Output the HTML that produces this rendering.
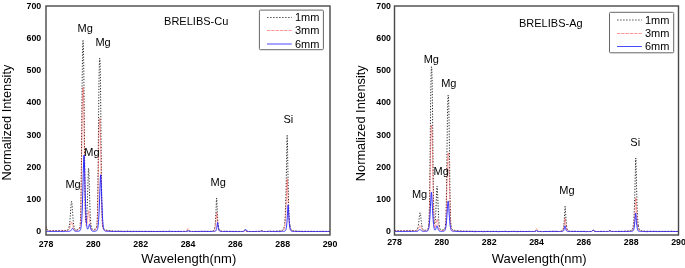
<!DOCTYPE html>
<html><head><meta charset="utf-8"><title>BRELIBS spectra</title>
<style>
html,body{margin:0;padding:0;background:#fff;overflow:hidden;}
svg{display:block;}
text{font-family:"Liberation Sans",sans-serif;fill:#000;}
.tk{font-size:8.8px;font-weight:bold;}
.ax{font-size:13px;}
.lb{font-size:11px;}
</style></head><body>
<svg width="685" height="268" viewBox="0 0 685 268">
<rect x="0" y="0" width="685" height="268" fill="#fff"/>
<g opacity="0.999">
<clipPath id="clip_left"><rect x="46.0" y="6.0" width="284.0" height="229.0"/></clipPath>
<g clip-path="url(#clip_left)" fill="none" stroke-linejoin="round">
<path d="M46.00,226.41 L46.71,228.89 L47.42,229.96 L48.13,230.40 L48.84,230.65 L49.55,230.82 L50.26,230.78 L50.97,230.74 L51.68,230.74 L52.39,230.73 L53.10,230.71 L53.81,230.74 L54.52,230.74 L55.23,230.70 L55.94,230.70 L56.65,230.71 L57.36,230.74 L58.07,230.72 L58.78,230.61 L59.49,230.56 L60.20,230.54 L60.91,230.48 L61.62,230.46 L62.33,230.52 L63.04,230.53 L63.75,230.52 L64.46,230.49 L64.58,230.48 L64.70,230.48 L64.82,230.47 L64.93,230.46 L65.05,230.46 L65.17,230.46 L65.29,230.46 L65.41,230.46 L65.52,230.45 L65.64,230.45 L65.76,230.45 L65.88,230.45 L66.00,230.44 L66.12,230.44 L66.24,230.40 L66.35,230.36 L66.47,230.33 L66.59,230.29 L66.71,230.25 L66.83,230.21 L66.94,230.16 L67.06,230.11 L67.18,230.06 L67.30,230.00 L67.42,229.97 L67.54,229.93 L67.66,229.88 L67.77,229.82 L67.89,229.75 L68.01,229.65 L68.13,229.53 L68.25,229.39 L68.36,229.21 L68.48,228.99 L68.60,228.71 L68.72,228.38 L68.84,227.99 L68.96,227.54 L69.08,227.01 L69.19,226.39 L69.31,225.69 L69.34,225.49 M73.78,225.49 L73.81,225.66 L73.93,226.38 L74.05,227.00 L74.16,227.54 L74.28,228.00 L74.40,228.40 L74.52,228.72 L74.64,228.99 L74.75,229.21 L74.87,229.39 L74.99,229.54 L75.11,229.66 L75.23,229.76 L75.35,229.83 L75.47,229.89 L75.58,229.93 L75.70,229.95 L75.82,229.96 L75.94,229.97 L76.06,229.96 L76.17,229.95 L76.29,229.94 L76.41,229.92 L76.53,229.89 L76.65,229.87 L76.77,229.83 L76.89,229.81 L77.00,229.79 L77.12,229.77 L77.24,229.74 L77.36,229.70 L77.48,229.67 L77.59,229.62 L77.71,229.58 L77.83,229.53 L77.95,229.48 L78.07,229.42 L78.19,229.35 L78.31,229.28 L78.42,229.20 L78.54,229.12 L78.66,229.03 L78.78,228.93 L78.90,228.82 L79.01,228.71 L79.13,228.57 L79.25,228.42 L79.37,228.23 L79.49,228.02 L79.61,227.75 L79.73,227.41 L79.84,226.96 L79.96,226.36 L80.08,225.53 L80.08,225.49 M91.05,225.49 L91.08,225.76 L91.20,226.48 L91.32,227.08 L91.44,227.56 L91.56,227.95 L91.68,228.27 L91.80,228.53 L91.91,228.74 L92.03,228.90 L92.15,229.04 L92.27,229.16 L92.39,229.25 L92.50,229.33 L92.62,229.40 L92.74,229.45 L92.86,229.50 L92.98,229.54 L93.10,229.57 L93.22,229.60 L93.33,229.62 L93.45,229.61 L93.57,229.59 L93.69,229.57 L93.81,229.55 L93.92,229.52 L94.04,229.48 L94.16,229.44 L94.28,229.40 L94.40,229.36 L94.52,229.31 L94.64,229.28 L94.75,229.24 L94.87,229.20 L94.99,229.16 L95.11,229.11 L95.23,229.05 L95.34,228.99 L95.46,228.92 L95.58,228.84 L95.70,228.75 L95.82,228.65 L95.94,228.53 L96.06,228.39 L96.17,228.23 L96.29,228.01 L96.41,227.73 L96.53,227.35 L96.65,226.83 L96.76,226.10 L96.84,225.49 M102.62,225.49 L102.68,226.01 L102.80,226.78 L102.92,227.32 L103.04,227.71 L103.16,228.01 L103.27,228.23 L103.39,228.42 L103.51,228.57 L103.63,228.70 L103.75,228.81 L103.86,228.92 L103.98,229.01 L104.10,229.10 L104.22,229.19 L104.34,229.26 L104.46,229.34 L104.58,229.40 L104.69,229.47 L104.81,229.52 L104.93,229.58 L105.05,229.63 L105.17,229.68 L105.28,229.73 L105.40,229.78 L105.52,229.83 L105.64,229.88 L105.76,229.93 L105.88,229.97 L106.00,230.01 L106.11,230.05 L106.23,230.09 L106.35,230.12 L106.47,230.16 L106.59,230.19 L106.70,230.21 L106.82,230.24 L107.06,230.29 L107.77,230.42 L108.48,230.53 L109.19,230.61 L109.90,230.67 L110.61,230.86 L111.32,230.97 L112.03,230.92 L112.74,231.02 L113.45,231.19 L114.16,231.16 L114.87,231.17 L115.58,231.26 L116.29,231.20 L117.00,231.08 L117.71,231.09 L118.42,231.12 L119.13,231.21 L119.84,231.19 L120.55,231.10 L121.26,231.23 L121.97,231.31 L122.68,231.28 L123.39,231.28 L124.10,231.29 L124.81,231.36 L125.52,231.38 L126.23,231.31 L126.94,231.25 L127.65,231.18 L128.36,231.33 L129.07,231.40 L129.78,231.31 L130.49,231.32 L131.20,231.38 L131.91,231.29 L132.62,231.25 L133.33,231.32 L134.04,231.33 L134.75,231.33 L135.46,231.33 L136.17,231.34 L136.88,231.36 L137.59,231.43 L138.30,231.51 L139.01,231.38 L139.72,231.33 L140.43,231.47 L141.14,231.46 L141.85,231.39 L142.56,231.37 L143.27,231.38 L143.98,231.46 L144.69,231.45 L145.40,231.40 L146.11,231.36 L146.82,231.34 L147.53,231.40 L148.24,231.45 L148.95,231.49 L149.66,231.59 L150.37,231.63 L151.08,231.53 L151.79,231.49 L152.50,231.47 L153.21,231.47 L153.92,231.48 L154.63,231.50 L155.34,231.46 L156.05,231.40 L156.76,231.45 L157.47,231.47 L158.18,231.45 L158.89,231.42 L159.60,231.38 L160.31,231.45 L161.02,231.49 L161.73,231.47 L162.44,231.38 L163.15,231.26 L163.86,231.32 L164.57,231.40 L165.28,231.51 L165.99,231.50 L166.70,231.44 L167.41,231.41 L168.12,231.38 L168.83,231.35 L169.54,231.37 L170.25,231.43 L170.96,231.46 L171.67,231.48 L172.38,231.49 L173.09,231.45 L173.80,231.39 L174.51,231.40 L175.22,231.43 L175.93,231.47 L176.64,231.47 L177.35,231.45 L178.06,231.46 L178.77,231.45 L179.48,231.40 L180.19,231.42 L180.90,231.49 L181.02,231.48 L181.14,231.47 L181.25,231.46 L181.37,231.45 L181.49,231.44 L181.61,231.43 L181.73,231.42 L181.85,231.42 L181.97,231.41 L182.08,231.40 L182.20,231.39 L182.32,231.39 L182.44,231.39 L182.56,231.38 L182.67,231.38 L182.79,231.38 L182.91,231.37 L183.03,231.37 L183.15,231.37 L183.27,231.36 L183.39,231.37 L183.50,231.37 L183.62,231.37 L183.74,231.37 L183.86,231.38 L183.98,231.38 L184.09,231.38 L184.21,231.38 L184.33,231.39 L184.45,231.39 L184.57,231.40 L184.69,231.41 L184.81,231.42 L184.92,231.43 L185.04,231.44 L185.16,231.45 L185.28,231.45 L185.40,231.46 L185.51,231.47 L185.63,231.48 L185.75,231.46 L185.87,231.43 L185.99,231.41 L186.11,231.38 L186.23,231.34 L186.34,231.30 L186.46,231.25 L186.58,231.20 L186.70,231.13 L186.82,231.05 L186.93,230.99 L187.05,230.91 L187.17,230.83 L187.29,230.74 L187.41,230.65 L187.53,230.56 L187.65,230.48 L187.76,230.42 L187.88,230.39 L188.00,230.39 L188.12,230.39 L188.24,230.43 L188.35,230.50 L188.47,230.59 L188.59,230.68 L188.71,230.78 L188.83,230.88 L188.95,230.97 L189.07,231.05 L189.18,231.12 L189.30,231.19 L189.42,231.25 L189.54,231.30 L189.66,231.34 L189.77,231.38 L189.89,231.40 L190.01,231.42 L190.13,231.44 L190.25,231.46 L190.37,231.47 L190.49,231.48 L190.60,231.49 L190.72,231.50 L190.84,231.51 L190.96,231.52 L191.08,231.53 L191.19,231.54 L191.31,231.55 L191.43,231.56 L191.55,231.56 L191.67,231.55 L191.79,231.53 L191.91,231.52 L192.02,231.50 L192.14,231.49 L192.26,231.47 L192.38,231.46 L192.50,231.44 L192.61,231.42 L192.73,231.41 L192.85,231.41 L192.97,231.41 L193.09,231.41 L193.21,231.41 L193.33,231.41 L193.44,231.41 L193.56,231.41 L193.68,231.41 L193.80,231.41 L193.92,231.41 L194.03,231.41 L194.15,231.41 L194.27,231.41 L194.39,231.42 L194.51,231.42 L194.63,231.42 L194.75,231.43 L194.86,231.43 L194.98,231.43 L195.10,231.43 L195.81,231.42 L196.52,231.42 L197.23,231.46 L197.94,231.48 L198.65,231.48 L199.36,231.45 L200.07,231.40 L200.78,231.30 L201.49,231.29 L202.20,231.34 L202.91,231.41 L203.62,231.43 L204.33,231.37 L205.04,231.38 L205.75,231.42 L206.46,231.41 L207.17,231.38 L207.88,231.30 L208.59,231.30 L209.30,231.35 L209.54,231.35 L209.66,231.36 L209.77,231.36 L209.89,231.37 L210.01,231.37 L210.13,231.37 L210.25,231.37 L210.36,231.38 L210.48,231.38 L210.60,231.36 L210.72,231.35 L210.84,231.33 L210.96,231.32 L211.08,231.30 L211.19,231.28 L211.31,231.27 L211.43,231.25 L211.55,231.23 L211.67,231.21 L211.78,231.19 L211.90,231.16 L212.02,231.13 L212.14,231.11 L212.26,231.08 L212.38,231.05 L212.50,231.01 L212.61,230.98 L212.73,230.94 L212.85,230.89 L212.97,230.85 L213.09,230.80 L213.20,230.74 L213.32,230.68 L213.44,230.60 L213.56,230.51 L213.68,230.41 L213.80,230.28 L213.92,230.12 L214.03,229.93 L214.15,229.70 L214.27,229.42 L214.39,229.08 L214.51,228.67 L214.62,228.18 L214.74,227.59 L214.86,226.89 L214.98,226.05 L215.05,225.49 M218.22,225.49 L218.29,226.09 L218.41,226.92 L218.53,227.61 L218.65,228.20 L218.77,228.68 L218.89,229.08 L219.00,229.42 L219.12,229.70 L219.24,229.93 L219.36,230.12 L219.48,230.28 L219.59,230.41 L219.71,230.52 L219.83,230.62 L219.95,230.70 L220.07,230.76 L220.19,230.80 L220.31,230.84 L220.42,230.88 L220.54,230.91 L220.66,230.93 L220.78,230.95 L220.90,230.97 L221.01,230.98 L221.13,231.00 L221.25,231.02 L221.37,231.04 L221.49,231.06 L221.61,231.08 L221.73,231.10 L221.84,231.11 L221.96,231.13 L222.08,231.14 L222.20,231.15 L222.32,231.17 L222.43,231.19 L222.55,231.21 L222.67,231.23 L222.79,231.25 L222.91,231.26 L223.03,231.28 L223.15,231.30 L223.26,231.32 L223.38,231.33 L223.50,231.35 L223.62,231.34 L223.74,231.33 L224.21,231.29 L224.92,231.28 L225.63,231.41 L226.34,231.42 L227.05,231.37 L227.76,231.38 L228.47,231.38 L229.18,231.37 L229.89,231.40 L230.60,231.46 L231.31,231.43 L232.02,231.42 L232.73,231.42 L233.44,231.39 L234.15,231.34 L234.86,231.43 L235.57,231.47 L236.28,231.43 L236.99,231.43 L237.70,231.44 L237.82,231.45 L237.94,231.46 L238.06,231.47 L238.17,231.48 L238.29,231.49 L238.41,231.49 L238.53,231.50 L238.65,231.51 L238.76,231.52 L238.88,231.53 L239.00,231.50 L239.12,231.46 L239.24,231.43 L239.36,231.40 L239.48,231.37 L239.59,231.33 L239.71,231.30 L239.83,231.27 L239.95,231.24 L240.07,231.21 L240.18,231.23 L240.30,231.25 L240.42,231.27 L240.54,231.29 L240.66,231.31 L240.78,231.34 L240.90,231.36 L241.01,231.38 L241.13,231.40 L241.25,231.42 L241.37,231.43 L241.49,231.44 L241.60,231.45 L241.72,231.46 L241.84,231.47 L241.96,231.48 L242.08,231.49 L242.20,231.50 L242.32,231.51 L242.43,231.52 L242.55,231.49 L242.67,231.46 L242.79,231.42 L242.91,231.38 L243.02,231.34 L243.14,231.29 L243.26,231.22 L243.38,231.15 L243.50,231.06 L243.62,230.95 L243.74,230.87 L243.85,230.78 L243.97,230.67 L244.09,230.55 L244.21,230.43 L244.33,230.32 L244.44,230.22 L244.56,230.14 L244.68,230.10 L244.80,230.10 L244.92,230.11 L245.04,230.16 L245.16,230.24 L245.27,230.35 L245.39,230.48 L245.51,230.61 L245.63,230.73 L245.75,230.85 L245.86,230.95 L245.98,231.04 L246.10,231.11 L246.22,231.18 L246.34,231.22 L246.46,231.26 L246.58,231.28 L246.69,231.30 L246.81,231.31 L246.93,231.32 L247.05,231.32 L247.17,231.33 L247.28,231.34 L247.40,231.36 L247.52,231.37 L247.64,231.39 L247.76,231.40 L247.88,231.41 L248.00,231.43 L248.11,231.44 L248.23,231.45 L248.35,231.47 L248.47,231.47 L248.59,231.47 L248.70,231.46 L248.82,231.46 L248.94,231.46 L249.06,231.46 L249.18,231.46 L249.30,231.46 L249.42,231.46 L249.53,231.46 L249.65,231.46 L249.77,231.46 L249.89,231.46 L250.01,231.46 L250.12,231.46 L250.24,231.46 L250.36,231.46 L250.48,231.46 L250.60,231.47 L250.72,231.47 L250.83,231.46 L250.95,231.46 L251.07,231.46 L251.19,231.45 L251.31,231.45 L251.43,231.45 L251.55,231.44 L251.66,231.44 L251.78,231.44 L251.90,231.43 L252.61,231.51 L253.32,231.55 L254.03,231.53 L254.27,231.52 L254.39,231.51 L254.50,231.50 L254.62,231.49 L254.74,231.49 L254.86,231.48 L254.98,231.47 L255.09,231.46 L255.21,231.45 L255.33,231.44 L255.45,231.43 L255.57,231.42 L255.69,231.41 L255.81,231.40 L255.92,231.39 L256.04,231.38 L256.16,231.37 L256.28,231.36 L256.40,231.35 L256.51,231.34 L256.63,231.33 L256.75,231.34 L256.87,231.34 L256.99,231.34 L257.11,231.34 L257.23,231.35 L257.34,231.35 L257.46,231.35 L257.58,231.36 L257.70,231.36 L257.82,231.36 L257.93,231.35 L258.05,231.34 L258.17,231.33 L258.29,231.32 L258.41,231.31 L258.53,231.30 L258.65,231.29 L258.76,231.28 L258.88,231.27 L259.00,231.26 L259.12,231.26 L259.24,231.27 L259.35,231.27 L259.47,231.27 L259.59,231.27 L259.71,231.26 L259.83,231.25 L259.95,231.23 L260.07,231.20 L260.18,231.16 L260.30,231.12 L260.42,231.07 L260.54,231.01 L260.66,230.95 L260.77,230.88 L260.89,230.82 L261.01,230.76 L261.13,230.72 L261.25,230.70 L261.37,230.70 L261.49,230.70 L261.60,230.73 L261.72,230.78 L261.84,230.84 L261.96,230.91 L262.08,230.98 L262.19,231.05 L262.31,231.12 L262.43,231.17 L262.55,231.22 L262.67,231.28 L262.79,231.33 L262.91,231.37 L263.02,231.41 L263.14,231.44 L263.26,231.47 L263.38,231.49 L263.50,231.51 L263.61,231.53 L263.73,231.55 L263.85,231.54 L263.97,231.53 L264.09,231.53 L264.21,231.52 L264.33,231.51 L264.44,231.50 L264.56,231.49 L264.68,231.48 L264.80,231.48 L264.92,231.47 L265.03,231.47 L265.15,231.47 L265.27,231.47 L265.39,231.47 L265.51,231.47 L265.63,231.47 L265.75,231.47 L265.86,231.47 L265.98,231.47 L266.10,231.47 L266.22,231.46 L266.34,231.45 L266.45,231.44 L266.57,231.43 L266.69,231.41 L266.81,231.40 L266.93,231.39 L267.05,231.38 L267.17,231.37 L267.28,231.36 L267.40,231.35 L267.52,231.35 L267.64,231.35 L267.76,231.34 L267.88,231.34 L267.99,231.34 L268.11,231.33 L268.23,231.33 L268.35,231.32 L268.47,231.32 L268.94,231.36 L269.65,231.41 L270.36,231.40 L271.07,231.41 L271.78,231.45 L272.49,231.40 L273.20,231.32 L273.91,231.29 L274.62,231.25 L275.33,231.22 L276.04,231.23 L276.75,231.26 L277.46,231.09 L278.17,230.96 L278.88,230.94 L279.59,230.92 L280.06,230.90 L280.18,230.89 L280.30,230.88 L280.42,230.86 L280.54,230.84 L280.66,230.82 L280.77,230.80 L280.89,230.78 L281.01,230.76 L281.13,230.73 L281.25,230.71 L281.36,230.68 L281.48,230.65 L281.60,230.61 L281.72,230.57 L281.84,230.52 L281.96,230.48 L282.08,230.42 L282.19,230.37 L282.31,230.30 L282.43,230.24 L282.55,230.16 L282.67,230.07 L282.78,229.98 L282.90,229.87 L283.02,229.74 L283.14,229.60 L283.26,229.44 L283.38,229.25 L283.50,229.03 L283.61,228.78 L283.73,228.49 L283.85,228.14 L283.97,227.74 L284.09,227.26 L284.20,226.70 L284.32,226.04 L284.41,225.49 M289.93,225.49 L290.00,225.98 L290.12,226.65 L290.24,227.22 L290.36,227.71 L290.48,228.12 L290.59,228.47 L290.71,228.77 L290.83,229.03 L290.95,229.26 L291.07,229.44 L291.19,229.59 L291.31,229.73 L291.42,229.84 L291.54,229.95 L291.66,230.03 L291.78,230.11 L291.90,230.18 L292.01,230.25 L292.13,230.30 L292.25,230.36 L292.37,230.42 L292.49,230.47 L292.61,230.52 L292.73,230.57 L292.84,230.61 L292.96,230.65 L293.08,230.69 L293.20,230.73 L293.32,230.76 L293.43,230.79 L293.55,230.82 L293.67,230.84 L293.79,230.87 L293.91,230.89 L294.03,230.91 L294.15,230.93 L294.26,230.95 L294.50,230.99 L295.21,230.96 L295.92,230.98 L296.63,231.15 L297.34,231.15 L298.05,231.06 L298.76,231.20 L299.47,231.29 L300.18,231.28 L300.89,231.26 L301.60,231.24 L302.31,231.30 L303.02,231.34 L303.73,231.33 L304.44,231.35 L305.15,231.39 L305.86,231.41 L306.57,231.42 L307.28,231.41 L307.99,231.42 L308.70,231.45 L309.41,231.34 L310.12,231.30 L310.83,231.39 L311.54,231.36 L312.25,231.27 L312.96,231.49 L313.67,231.59 L314.38,231.46 L315.09,231.40 L315.80,231.38 L316.51,231.42 L317.22,231.43 L317.93,231.36 L318.64,231.36 L319.35,231.38 L320.06,231.43 L320.77,231.44 L321.48,231.41 L322.19,231.32 L322.90,231.21 L323.61,231.33 L324.32,231.42 L325.03,231.42 L325.74,231.44 L326.45,231.48 L327.16,231.45 L327.87,231.45 L328.58,231.52 L329.29,231.51 L330.00,231.46" stroke="#111" stroke-width="0.85" stroke-dasharray="1.6 1.4"/>
<path d="M71.56,201.45 L71.44,201.72 L71.32,202.40 L71.20,203.40 L71.09,204.66 L70.97,206.12 L70.85,207.73 L70.73,209.41 L70.61,211.13 L70.50,212.85 L70.38,214.55 L70.26,216.18 L70.14,217.74 L70.02,219.20 L69.90,220.56 L69.78,221.82 L69.67,222.95 L69.55,223.97 L69.43,224.88 L69.34,225.49" stroke="#222" stroke-width="1.0" stroke-dasharray="1.2 1.6" stroke-dashoffset="0"/>
<path d="M71.56,201.45 L71.68,201.70 L71.80,202.35 L71.92,203.33 L72.03,204.57 L72.15,206.03 L72.27,207.63 L72.39,209.31 L72.51,211.04 L72.62,212.77 L72.74,214.47 L72.86,216.11 L72.98,217.67 L73.10,219.14 L73.22,220.50 L73.33,221.76 L73.45,222.90 L73.57,223.93 L73.69,224.85 L73.78,225.49" stroke="#222" stroke-width="1.0" stroke-dasharray="1.2 1.6" stroke-dashoffset="0.8"/>
<path d="M83.04,40.56 L82.92,40.98 L82.80,42.63 L82.68,45.87 L82.57,50.89 L82.45,57.73 L82.33,66.32 L82.21,76.52 L82.09,88.08 L81.97,100.71 L81.85,114.03 L81.74,127.65 L81.62,141.17 L81.50,154.21 L81.38,166.44 L81.26,177.60 L81.15,187.52 L81.03,196.11 L80.91,203.35 L80.79,209.30 L80.67,214.07 L80.55,217.80 L80.43,220.66 L80.32,222.80 L80.20,224.38 L80.08,225.49" stroke="#222" stroke-width="1.0" stroke-dasharray="1.2 1.6" stroke-dashoffset="0"/>
<path d="M83.04,40.56 L83.16,40.99 L83.27,42.66 L83.39,45.90 L83.51,50.91 L83.63,57.72 L83.75,66.28 L83.87,76.45 L83.99,87.96 L84.10,100.52 L84.22,113.78 L84.34,127.32 L84.46,140.77 L84.58,153.72 L84.69,165.86 L84.81,176.93 L84.93,186.73 L85.05,195.19 L85.17,202.28 L85.29,208.06 L85.41,212.61 L85.52,216.08 L85.64,218.62 L85.76,220.36 L85.88,221.46 L86.00,222.02 L86.11,222.13 L86.23,221.86 L86.35,221.26 L86.47,220.34 L86.59,219.11 L86.71,217.56 L86.83,215.69 L86.94,213.48 L87.06,210.93 L87.18,208.04 L87.30,204.80 L87.42,201.26 L87.53,197.41 L87.65,193.34 L87.77,189.13 L87.89,184.90 L88.01,180.76 L88.13,176.89 L88.25,173.48 L88.36,170.73 L88.48,168.87 L88.60,168.14 L88.72,168.95 L88.84,170.90 L88.95,173.73 L89.07,177.22 L89.19,181.18 L89.31,185.40 L89.43,189.73 L89.55,194.03 L89.67,198.20 L89.78,202.16 L89.90,205.82 L90.02,209.18 L90.14,212.21 L90.26,214.90 L90.38,217.27 L90.49,219.32 L90.61,221.08 L90.73,222.58 L90.85,223.83 L90.97,224.87 L91.05,225.49" stroke="#222" stroke-width="1.0" stroke-dasharray="1.2 1.6" stroke-dashoffset="0.8"/>
<path d="M99.72,58.12 L99.60,58.50 L99.49,60.00 L99.37,62.95 L99.25,67.50 L99.13,73.69 L99.01,81.49 L98.90,90.74 L98.78,101.25 L98.66,112.72 L98.54,124.82 L98.42,137.20 L98.30,149.48 L98.18,161.33 L98.07,172.44 L97.95,182.59 L97.83,191.61 L97.71,199.42 L97.59,206.00 L97.48,211.41 L97.36,215.74 L97.24,219.13 L97.12,221.71 L97.00,223.65 L96.88,225.08 L96.84,225.49" stroke="#222" stroke-width="1.0" stroke-dasharray="1.2 1.6" stroke-dashoffset="0"/>
<path d="M99.72,58.12 L99.84,58.51 L99.96,60.03 L100.08,62.99 L100.20,67.55 L100.32,73.76 L100.43,81.57 L100.55,90.44 L100.67,100.95 L100.79,112.42 L100.91,124.53 L101.02,136.91 L101.14,149.19 L101.26,161.04 L101.38,172.15 L101.50,182.30 L101.62,191.32 L101.74,199.14 L101.85,205.75 L101.97,211.17 L102.09,215.52 L102.21,218.93 L102.33,221.54 L102.44,223.50 L102.56,224.95 L102.62,225.49" stroke="#222" stroke-width="1.0" stroke-dasharray="1.2 1.6" stroke-dashoffset="0.8"/>
<path d="M216.64,198.11 L216.52,199.16 L216.40,201.22 L216.28,203.81 L216.16,206.65 L216.05,209.53 L215.93,212.28 L215.81,214.84 L215.69,217.14 L215.57,219.20 L215.45,220.99 L215.33,222.55 L215.22,223.89 L215.10,225.06 L215.05,225.49" stroke="#222" stroke-width="1.0" stroke-dasharray="1.2 1.6" stroke-dashoffset="0"/>
<path d="M216.64,198.11 L216.75,199.13 L216.87,201.17 L216.99,203.77 L217.11,206.62 L217.23,209.49 L217.35,212.25 L217.47,214.81 L217.58,217.12 L217.70,219.19 L217.82,221.01 L217.94,222.58 L218.06,223.94 L218.17,225.10 L218.22,225.49" stroke="#222" stroke-width="1.0" stroke-dasharray="1.2 1.6" stroke-dashoffset="0.8"/>
<path d="M287.16,135.43 L287.05,137.74 L286.93,142.24 L286.81,148.04 L286.69,154.60 L286.57,161.49 L286.45,168.37 L286.33,175.04 L286.22,181.33 L286.10,187.16 L285.98,192.50 L285.86,197.34 L285.74,201.68 L285.62,205.54 L285.51,208.96 L285.39,211.96 L285.27,214.59 L285.15,216.88 L285.03,218.86 L284.92,220.57 L284.80,222.03 L284.68,223.29 L284.56,224.36 L284.44,225.27 L284.41,225.49" stroke="#222" stroke-width="1.0" stroke-dasharray="1.2 1.6" stroke-dashoffset="0"/>
<path d="M287.16,135.43 L287.28,137.74 L287.40,142.23 L287.52,148.02 L287.64,154.58 L287.75,161.46 L287.87,168.34 L287.99,174.99 L288.11,181.27 L288.23,187.10 L288.35,192.43 L288.47,197.26 L288.58,201.59 L288.70,205.45 L288.82,208.87 L288.94,211.87 L289.06,214.50 L289.17,216.78 L289.29,218.76 L289.41,220.47 L289.53,221.94 L289.65,223.19 L289.77,224.27 L289.89,225.19 L289.93,225.49" stroke="#222" stroke-width="1.0" stroke-dasharray="1.2 1.6" stroke-dashoffset="0.8"/>
<path d="M46.00,227.43 L46.71,229.49 L47.42,230.36 L48.13,230.71 L48.84,230.83 L49.55,230.85 L50.26,230.94 L50.97,230.97 L51.68,230.90 L52.39,230.91 L53.10,230.95 L53.81,230.99 L54.52,231.00 L55.23,230.92 L55.94,231.02 L56.65,231.21 L57.36,231.12 L58.07,231.04 L58.78,231.00 L59.49,231.01 L60.20,231.06 L60.91,231.02 L61.62,230.99 L62.33,231.00 L63.04,231.00 L63.75,230.99 L64.46,230.81 L64.58,230.77 L64.70,230.74 L64.82,230.71 L64.93,230.68 L65.05,230.70 L65.17,230.71 L65.29,230.72 L65.41,230.74 L65.52,230.75 L65.64,230.76 L65.76,230.77 L65.88,230.79 L66.00,230.80 L66.12,230.81 L66.24,230.81 L66.35,230.81 L66.47,230.81 L66.59,230.81 L66.71,230.81 L66.83,230.80 L66.94,230.80 L67.06,230.80 L67.18,230.79 L67.30,230.78 L67.42,230.75 L67.54,230.72 L67.66,230.69 L67.77,230.65 L67.89,230.61 L68.01,230.55 L68.13,230.50 L68.25,230.43 L68.36,230.35 L68.48,230.26 L68.60,230.17 L68.72,230.07 L68.84,229.95 L68.96,229.81 L69.08,229.65 L69.19,229.46 L69.31,229.24 L69.43,228.99 L69.55,228.71 L69.67,228.40 L69.78,228.03 L69.90,227.63 L70.02,227.20 L70.14,226.74 L70.26,226.25 L70.38,225.74 L70.50,225.22 L70.61,224.69 L70.73,224.16 L70.85,223.65 L70.97,223.18 L71.09,222.75 L71.20,222.39 L71.32,222.10 L71.44,221.91 L71.56,221.83 L71.68,221.92 L71.80,222.12 L71.92,222.41 L72.03,222.79 L72.15,223.21 L72.27,223.67 L72.39,224.16 L72.51,224.67 L72.62,225.18 L72.74,225.68 L72.86,226.17 L72.98,226.63 L73.10,227.07 L73.22,227.48 L73.33,227.90 L73.45,228.28 L73.57,228.63 L73.69,228.94 L73.81,229.22 L73.93,229.47 L74.05,229.70 L74.16,229.89 L74.28,230.07 L74.40,230.22 L74.52,230.30 L74.64,230.37 L74.75,230.43 L74.87,230.47 L74.99,230.50 L75.11,230.51 L75.23,230.52 L75.35,230.53 L75.47,230.52 L75.58,230.51 L75.70,230.52 L75.82,230.52 L75.94,230.52 L76.06,230.51 L76.17,230.51 L76.29,230.50 L76.41,230.49 L76.53,230.47 L76.65,230.45 L76.77,230.43 L76.89,230.42 L77.00,230.40 L77.12,230.38 L77.24,230.36 L77.36,230.33 L77.48,230.30 L77.59,230.27 L77.71,230.24 L77.83,230.20 L77.95,230.16 L78.07,230.09 L78.19,230.01 L78.31,229.93 L78.42,229.84 L78.54,229.75 L78.66,229.66 L78.78,229.56 L78.90,229.45 L79.01,229.33 L79.13,229.19 L79.25,229.08 L79.37,228.94 L79.49,228.76 L79.61,228.53 L79.73,228.23 L79.84,227.82 L79.96,227.25 L80.08,226.47 L80.20,225.40 L80.32,223.96 L80.43,222.00 L80.55,219.45 L80.67,216.21 L80.79,212.16 L80.91,207.22 L81.03,201.34 L81.15,194.51 L81.26,186.76 L81.38,178.19 L81.50,168.95 L81.62,159.26 L81.74,149.33 L81.85,139.44 L81.97,129.85 L82.09,120.83 L82.21,112.63 L82.33,105.43 L82.45,99.40 L82.57,94.62 L82.68,91.13 L82.80,88.85 L82.92,87.68 L83.04,87.37 L83.16,87.66 L83.27,88.81 L83.39,91.07 L83.51,94.56 L83.63,99.33 L83.75,105.36 L83.87,112.54 L83.99,120.74 L84.10,129.76 L84.22,139.34 L84.34,149.23 L84.46,159.14 L84.58,168.82 L84.69,178.02 L84.81,186.54 L84.93,194.24 L85.05,201.01 L85.17,206.80 L85.29,211.65 L85.41,215.59 L85.52,218.72 L85.64,221.12 L85.76,222.91 L85.88,224.19 L86.00,225.06 L86.11,225.59 L86.23,225.86 L86.35,225.94 L86.47,225.85 L86.59,225.61 L86.71,225.23 L86.83,224.72 L86.94,224.10 L87.06,223.36 L87.18,222.51 L87.30,221.56 L87.42,220.51 L87.53,219.35 L87.65,218.12 L87.77,216.85 L87.89,215.58 L88.01,214.35 L88.13,213.20 L88.25,212.20 L88.36,211.39 L88.48,210.85 L88.60,210.65 L88.72,210.92 L88.84,211.52 L88.95,212.40 L89.07,213.47 L89.19,214.69 L89.31,215.99 L89.43,217.33 L89.55,218.68 L89.67,219.98 L89.78,221.24 L89.90,222.40 L90.02,223.47 L90.14,224.45 L90.26,225.33 L90.38,226.10 L90.49,226.79 L90.61,227.38 L90.73,227.89 L90.85,228.32 L90.97,228.68 L91.08,228.99 L91.20,229.25 L91.32,229.47 L91.44,229.64 L91.56,229.79 L91.68,229.90 L91.80,230.00 L91.91,230.07 L92.03,230.14 L92.15,230.18 L92.27,230.22 L92.39,230.24 L92.50,230.26 L92.62,230.27 L92.74,230.28 L92.86,230.28 L92.98,230.28 L93.10,230.28 L93.22,230.27 L93.33,230.26 L93.45,230.27 L93.57,230.27 L93.69,230.27 L93.81,230.27 L93.92,230.27 L94.04,230.26 L94.16,230.26 L94.28,230.25 L94.40,230.23 L94.52,230.22 L94.64,230.16 L94.75,230.11 L94.87,230.05 L94.99,229.99 L95.11,229.92 L95.23,229.85 L95.34,229.78 L95.46,229.70 L95.58,229.61 L95.70,229.52 L95.82,229.43 L95.94,229.33 L96.06,229.21 L96.17,229.06 L96.29,228.88 L96.41,228.63 L96.53,228.29 L96.65,227.84 L96.76,227.22 L96.88,226.37 L97.00,225.25 L97.12,223.75 L97.24,221.79 L97.36,219.29 L97.48,216.15 L97.59,212.31 L97.71,207.74 L97.83,202.42 L97.95,196.37 L98.07,189.69 L98.18,182.45 L98.30,174.83 L98.42,167.04 L98.54,159.26 L98.66,151.73 L98.78,144.65 L98.90,138.20 L99.01,132.55 L99.13,127.81 L99.25,124.06 L99.37,121.31 L99.49,119.53 L99.60,118.61 L99.72,118.38 L99.84,118.61 L99.96,119.53 L100.08,121.31 L100.20,124.06 L100.32,127.81 L100.43,132.55 L100.55,137.97 L100.67,144.41 L100.79,151.49 L100.91,159.02 L101.02,166.79 L101.14,174.58 L101.26,182.19 L101.38,189.43 L101.50,196.13 L101.62,202.19 L101.74,207.54 L101.85,212.13 L101.97,215.99 L102.09,219.15 L102.21,221.68 L102.33,223.66 L102.44,225.18 L102.56,226.32 L102.68,227.16 L102.80,227.78 L102.92,228.27 L103.04,228.63 L103.16,228.91 L103.27,229.13 L103.39,229.31 L103.51,229.46 L103.63,229.59 L103.75,229.71 L103.86,229.82 L103.98,229.92 L104.10,229.99 L104.22,230.05 L104.34,230.10 L104.46,230.15 L104.58,230.20 L104.69,230.25 L104.81,230.29 L104.93,230.33 L105.05,230.37 L105.17,230.40 L105.28,230.44 L105.40,230.48 L105.52,230.52 L105.64,230.55 L105.76,230.59 L105.88,230.62 L106.00,230.65 L106.11,230.68 L106.23,230.71 L106.35,230.73 L106.47,230.76 L106.59,230.78 L106.70,230.80 L106.82,230.82 L107.06,230.86 L107.77,230.96 L108.48,231.06 L109.19,231.07 L109.90,231.02 L110.61,231.14 L111.32,231.18 L112.03,231.09 L112.74,231.09 L113.45,231.14 L114.16,231.26 L114.87,231.34 L115.58,231.36 L116.29,231.36 L117.00,231.35 L117.71,231.27 L118.42,231.25 L119.13,231.37 L119.84,231.44 L120.55,231.48 L121.26,231.41 L121.97,231.37 L122.68,231.35 L123.39,231.39 L124.10,231.44 L124.81,231.34 L125.52,231.29 L126.23,231.36 L126.94,231.38 L127.65,231.38 L128.36,231.44 L129.07,231.48 L129.78,231.44 L130.49,231.43 L131.20,231.44 L131.91,231.55 L132.62,231.58 L133.33,231.46 L134.04,231.48 L134.75,231.59 L135.46,231.50 L136.17,231.47 L136.88,231.54 L137.59,231.46 L138.30,231.29 L139.01,231.37 L139.72,231.42 L140.43,231.39 L141.14,231.39 L141.85,231.38 L142.56,231.49 L143.27,231.58 L143.98,231.63 L144.69,231.58 L145.40,231.49 L146.11,231.43 L146.82,231.41 L147.53,231.45 L148.24,231.44 L148.95,231.40 L149.66,231.40 L150.37,231.43 L151.08,231.55 L151.79,231.53 L152.50,231.45 L153.21,231.37 L153.92,231.35 L154.63,231.48 L155.34,231.57 L156.05,231.64 L156.76,231.55 L157.47,231.50 L158.18,231.51 L158.89,231.48 L159.60,231.44 L160.31,231.50 L161.02,231.53 L161.73,231.48 L162.44,231.54 L163.15,231.65 L163.86,231.51 L164.57,231.40 L165.28,231.36 L165.99,231.36 L166.70,231.37 L167.41,231.51 L168.12,231.57 L168.83,231.48 L169.54,231.56 L170.25,231.72 L170.96,231.56 L171.67,231.46 L172.38,231.48 L173.09,231.51 L173.80,231.56 L174.51,231.49 L175.22,231.45 L175.93,231.46 L176.64,231.44 L177.35,231.40 L178.06,231.44 L178.77,231.46 L179.48,231.46 L180.19,231.52 L180.90,231.63 L181.02,231.62 L181.14,231.61 L181.25,231.61 L181.37,231.60 L181.49,231.59 L181.61,231.59 L181.73,231.58 L181.85,231.57 L181.97,231.57 L182.08,231.56 L182.20,231.55 L182.32,231.55 L182.44,231.54 L182.56,231.54 L182.67,231.53 L182.79,231.52 L182.91,231.52 L183.03,231.51 L183.15,231.50 L183.27,231.50 L183.39,231.49 L183.50,231.48 L183.62,231.48 L183.74,231.47 L183.86,231.46 L183.98,231.45 L184.09,231.45 L184.21,231.44 L184.33,231.43 L184.45,231.42 L184.57,231.42 L184.69,231.42 L184.81,231.42 L184.92,231.42 L185.04,231.42 L185.16,231.42 L185.28,231.42 L185.40,231.41 L185.51,231.41 L185.63,231.40 L185.75,231.37 L185.87,231.34 L185.99,231.30 L186.11,231.25 L186.23,231.18 L186.34,231.10 L186.46,230.99 L186.58,230.86 L186.70,230.70 L186.82,230.50 L186.93,230.30 L187.05,230.07 L187.17,229.82 L187.29,229.55 L187.41,229.27 L187.53,229.01 L187.65,228.78 L187.76,228.60 L187.88,228.49 L188.00,228.47 L188.12,228.51 L188.24,228.63 L188.35,228.82 L188.47,229.07 L188.59,229.34 L188.71,229.63 L188.83,229.92 L188.95,230.18 L189.07,230.43 L189.18,230.64 L189.30,230.82 L189.42,230.97 L189.54,231.08 L189.66,231.17 L189.77,231.24 L189.89,231.29 L190.01,231.32 L190.13,231.35 L190.25,231.36 L190.37,231.37 L190.49,231.39 L190.60,231.40 L190.72,231.41 L190.84,231.42 L190.96,231.43 L191.08,231.44 L191.19,231.44 L191.31,231.45 L191.43,231.46 L191.55,231.46 L191.67,231.46 L191.79,231.45 L191.91,231.45 L192.02,231.45 L192.14,231.44 L192.26,231.44 L192.38,231.43 L192.50,231.43 L192.61,231.42 L192.73,231.42 L192.85,231.43 L192.97,231.44 L193.09,231.45 L193.21,231.45 L193.33,231.46 L193.44,231.47 L193.56,231.48 L193.68,231.49 L193.80,231.50 L193.92,231.51 L194.03,231.49 L194.15,231.48 L194.27,231.46 L194.39,231.45 L194.51,231.43 L194.63,231.41 L194.75,231.40 L194.86,231.38 L194.98,231.37 L195.10,231.35 L195.81,231.44 L196.52,231.47 L197.23,231.40 L197.94,231.41 L198.65,231.47 L199.36,231.39 L200.07,231.39 L200.78,231.53 L201.49,231.51 L202.20,231.42 L202.91,231.46 L203.62,231.48 L204.33,231.44 L205.04,231.40 L205.75,231.35 L206.46,231.45 L207.17,231.53 L207.88,231.53 L208.59,231.51 L209.30,231.48 L209.54,231.45 L209.66,231.44 L209.77,231.42 L209.89,231.41 L210.01,231.40 L210.13,231.38 L210.25,231.37 L210.36,231.35 L210.48,231.34 L210.60,231.35 L210.72,231.36 L210.84,231.38 L210.96,231.39 L211.08,231.40 L211.19,231.41 L211.31,231.42 L211.43,231.43 L211.55,231.44 L211.67,231.45 L211.78,231.42 L211.90,231.40 L212.02,231.37 L212.14,231.34 L212.26,231.31 L212.38,231.28 L212.50,231.25 L212.61,231.22 L212.73,231.18 L212.85,231.14 L212.97,231.12 L213.09,231.11 L213.20,231.08 L213.32,231.05 L213.44,231.01 L213.56,230.97 L213.68,230.91 L213.80,230.84 L213.92,230.75 L214.03,230.65 L214.15,230.50 L214.27,230.33 L214.39,230.13 L214.51,229.88 L214.62,229.58 L214.74,229.23 L214.86,228.81 L214.98,228.32 L215.10,227.74 L215.22,227.06 L215.33,226.27 L215.45,225.36 L215.57,224.32 L215.69,223.14 L215.81,221.83 L215.93,220.39 L216.05,218.85 L216.16,217.26 L216.28,215.69 L216.40,214.28 L216.52,213.17 L216.64,212.61 L216.75,213.16 L216.87,214.25 L216.99,215.66 L217.11,217.21 L217.23,218.79 L217.35,220.31 L217.47,221.74 L217.58,223.04 L217.70,224.22 L217.82,225.26 L217.94,226.18 L218.06,226.97 L218.17,227.66 L218.29,228.24 L218.41,228.74 L218.53,229.17 L218.65,229.53 L218.77,229.83 L218.89,230.07 L219.00,230.28 L219.12,230.45 L219.24,230.59 L219.36,230.71 L219.48,230.80 L219.59,230.88 L219.71,230.95 L219.83,231.01 L219.95,231.05 L220.07,231.09 L220.19,231.12 L220.31,231.15 L220.42,231.17 L220.54,231.19 L220.66,231.21 L220.78,231.22 L220.90,231.24 L221.01,231.25 L221.13,231.26 L221.25,231.27 L221.37,231.28 L221.49,231.29 L221.61,231.31 L221.73,231.32 L221.84,231.33 L221.96,231.34 L222.08,231.34 L222.20,231.35 L222.32,231.36 L222.43,231.39 L222.55,231.41 L222.67,231.44 L222.79,231.46 L222.91,231.48 L223.03,231.51 L223.15,231.53 L223.26,231.55 L223.38,231.58 L223.50,231.60 L223.62,231.59 L223.74,231.57 L224.21,231.51 L224.92,231.44 L225.63,231.43 L226.34,231.39 L227.05,231.35 L227.76,231.31 L228.47,231.31 L229.18,231.38 L229.89,231.42 L230.60,231.45 L231.31,231.51 L232.02,231.52 L232.73,231.47 L233.44,231.44 L234.15,231.40 L234.86,231.38 L235.57,231.40 L236.28,231.51 L236.99,231.50 L237.70,231.45 L237.82,231.45 L237.94,231.44 L238.06,231.44 L238.17,231.43 L238.29,231.43 L238.41,231.42 L238.53,231.42 L238.65,231.41 L238.76,231.41 L238.88,231.40 L239.00,231.39 L239.12,231.39 L239.24,231.38 L239.36,231.37 L239.48,231.36 L239.59,231.35 L239.71,231.34 L239.83,231.33 L239.95,231.33 L240.07,231.32 L240.18,231.33 L240.30,231.34 L240.42,231.35 L240.54,231.37 L240.66,231.38 L240.78,231.39 L240.90,231.40 L241.01,231.42 L241.13,231.43 L241.25,231.44 L241.37,231.45 L241.49,231.45 L241.60,231.46 L241.72,231.46 L241.84,231.47 L241.96,231.47 L242.08,231.48 L242.20,231.48 L242.32,231.49 L242.43,231.49 L242.55,231.48 L242.67,231.48 L242.79,231.47 L242.91,231.45 L243.02,231.44 L243.14,231.41 L243.26,231.38 L243.38,231.33 L243.50,231.28 L243.62,231.21 L243.74,231.13 L243.85,231.03 L243.97,230.93 L244.09,230.82 L244.21,230.71 L244.33,230.60 L244.44,230.51 L244.56,230.43 L244.68,230.38 L244.80,230.36 L244.92,230.38 L245.04,230.43 L245.16,230.51 L245.27,230.60 L245.39,230.71 L245.51,230.82 L245.63,230.93 L245.75,231.03 L245.86,231.13 L245.98,231.21 L246.10,231.27 L246.22,231.31 L246.34,231.34 L246.46,231.37 L246.58,231.38 L246.69,231.39 L246.81,231.39 L246.93,231.39 L247.05,231.38 L247.17,231.38 L247.28,231.38 L247.40,231.38 L247.52,231.38 L247.64,231.38 L247.76,231.38 L247.88,231.38 L248.00,231.38 L248.11,231.38 L248.23,231.38 L248.35,231.38 L248.47,231.38 L248.59,231.38 L248.70,231.39 L248.82,231.39 L248.94,231.39 L249.06,231.40 L249.18,231.40 L249.30,231.40 L249.42,231.40 L249.53,231.41 L249.65,231.40 L249.77,231.40 L249.89,231.40 L250.01,231.39 L250.12,231.39 L250.24,231.39 L250.36,231.38 L250.48,231.38 L250.60,231.38 L250.72,231.37 L250.83,231.39 L250.95,231.40 L251.07,231.41 L251.19,231.43 L251.31,231.44 L251.43,231.45 L251.55,231.47 L251.66,231.48 L251.78,231.49 L251.90,231.51 L252.61,231.46 L253.32,231.45 L254.03,231.49 L254.27,231.50 L254.39,231.49 L254.50,231.49 L254.62,231.49 L254.74,231.48 L254.86,231.48 L254.98,231.48 L255.09,231.47 L255.21,231.47 L255.33,231.47 L255.45,231.46 L255.57,231.45 L255.69,231.44 L255.81,231.43 L255.92,231.42 L256.04,231.41 L256.16,231.40 L256.28,231.39 L256.40,231.38 L256.51,231.37 L256.63,231.36 L256.75,231.37 L256.87,231.38 L256.99,231.39 L257.11,231.40 L257.23,231.41 L257.34,231.42 L257.46,231.43 L257.58,231.44 L257.70,231.45 L257.82,231.46 L257.93,231.47 L258.05,231.49 L258.17,231.50 L258.29,231.51 L258.41,231.53 L258.53,231.54 L258.65,231.55 L258.76,231.56 L258.88,231.58 L259.00,231.59 L259.12,231.57 L259.24,231.55 L259.35,231.52 L259.47,231.50 L259.59,231.46 L259.71,231.43 L259.83,231.38 L259.95,231.32 L260.07,231.25 L260.18,231.17 L260.30,231.09 L260.42,231.01 L260.54,230.91 L260.66,230.81 L260.77,230.70 L260.89,230.60 L261.01,230.52 L261.13,230.45 L261.25,230.40 L261.37,230.39 L261.49,230.41 L261.60,230.47 L261.72,230.54 L261.84,230.64 L261.96,230.75 L262.08,230.87 L262.19,230.98 L262.31,231.08 L262.43,231.18 L262.55,231.27 L262.67,231.33 L262.79,231.38 L262.91,231.42 L263.02,231.45 L263.14,231.47 L263.26,231.48 L263.38,231.49 L263.50,231.49 L263.61,231.49 L263.73,231.49 L263.85,231.48 L263.97,231.47 L264.09,231.46 L264.21,231.45 L264.33,231.43 L264.44,231.42 L264.56,231.41 L264.68,231.39 L264.80,231.38 L264.92,231.37 L265.03,231.36 L265.15,231.35 L265.27,231.35 L265.39,231.34 L265.51,231.34 L265.63,231.33 L265.75,231.33 L265.86,231.32 L265.98,231.31 L266.10,231.31 L266.22,231.33 L266.34,231.34 L266.45,231.36 L266.57,231.38 L266.69,231.40 L266.81,231.41 L266.93,231.43 L267.05,231.45 L267.17,231.46 L267.28,231.48 L267.40,231.47 L267.52,231.46 L267.64,231.45 L267.76,231.43 L267.88,231.42 L267.99,231.41 L268.11,231.40 L268.23,231.38 L268.35,231.37 L268.47,231.36 L268.94,231.35 L269.65,231.34 L270.36,231.45 L271.07,231.50 L271.78,231.44 L272.49,231.42 L273.20,231.41 L273.91,231.39 L274.62,231.40 L275.33,231.47 L276.04,231.44 L276.75,231.37 L277.46,231.28 L278.17,231.20 L278.88,231.15 L279.59,231.09 L280.06,231.03 L280.18,231.01 L280.30,231.00 L280.42,231.00 L280.54,231.01 L280.66,231.01 L280.77,231.02 L280.89,231.02 L281.01,231.02 L281.13,231.02 L281.25,231.02 L281.36,231.02 L281.48,231.02 L281.60,230.98 L281.72,230.93 L281.84,230.89 L281.96,230.85 L282.08,230.80 L282.19,230.75 L282.31,230.69 L282.43,230.63 L282.55,230.57 L282.67,230.50 L282.78,230.45 L282.90,230.39 L283.02,230.33 L283.14,230.25 L283.26,230.16 L283.38,230.06 L283.50,229.93 L283.61,229.79 L283.73,229.62 L283.85,229.41 L283.97,229.18 L284.09,228.90 L284.20,228.58 L284.32,228.19 L284.44,227.74 L284.56,227.21 L284.68,226.59 L284.80,225.86 L284.92,225.02 L285.03,224.04 L285.15,222.88 L285.27,221.55 L285.39,220.04 L285.51,218.32 L285.62,216.39 L285.74,214.21 L285.86,211.79 L285.98,209.11 L286.10,206.17 L286.22,202.98 L286.33,199.60 L286.45,196.03 L286.57,192.37 L286.69,188.73 L286.81,185.29 L286.93,182.26 L287.05,179.92 L287.16,178.73 L287.28,179.94 L287.40,182.29 L287.52,185.33 L287.64,188.77 L287.75,192.41 L287.87,196.07 L287.99,199.64 L288.11,203.03 L288.23,206.20 L288.35,209.11 L288.47,211.77 L288.58,214.16 L288.70,216.32 L288.82,218.25 L288.94,219.95 L289.06,221.45 L289.17,222.77 L289.29,223.92 L289.41,224.92 L289.53,225.78 L289.65,226.53 L289.77,227.17 L289.89,227.71 L290.00,228.17 L290.12,228.56 L290.24,228.89 L290.36,229.17 L290.48,229.41 L290.59,229.61 L290.71,229.79 L290.83,229.93 L290.95,230.05 L291.07,230.18 L291.19,230.28 L291.31,230.38 L291.42,230.46 L291.54,230.53 L291.66,230.60 L291.78,230.66 L291.90,230.71 L292.01,230.76 L292.13,230.81 L292.25,230.84 L292.37,230.88 L292.49,230.91 L292.61,230.94 L292.73,230.97 L292.84,231.00 L292.96,231.02 L293.08,231.04 L293.20,231.07 L293.32,231.09 L293.43,231.09 L293.55,231.10 L293.67,231.10 L293.79,231.10 L293.91,231.11 L294.03,231.11 L294.15,231.11 L294.26,231.11 L294.50,231.11 L295.21,231.20 L295.92,231.27 L296.63,231.33 L297.34,231.31 L298.05,231.25 L298.76,231.35 L299.47,231.42 L300.18,231.44 L300.89,231.45 L301.60,231.46 L302.31,231.51 L303.02,231.53 L303.73,231.49 L304.44,231.40 L305.15,231.29 L305.86,231.43 L306.57,231.51 L307.28,231.46 L307.99,231.49 L308.70,231.55 L309.41,231.52 L310.12,231.48 L310.83,231.37 L311.54,231.36 L312.25,231.39 L312.96,231.47 L313.67,231.51 L314.38,231.48 L315.09,231.50 L315.80,231.54 L316.51,231.54 L317.22,231.54 L317.93,231.55 L318.64,231.55 L319.35,231.55 L320.06,231.49 L320.77,231.45 L321.48,231.43 L322.19,231.43 L322.90,231.44 L323.61,231.47 L324.32,231.51 L325.03,231.57 L325.74,231.55 L326.45,231.49 L327.16,231.53 L327.87,231.53 L328.58,231.44 L329.29,231.42 L330.00,231.44" stroke="#ff2a2a" stroke-width="0.5" stroke-dasharray="3.3 1.0"/>
<path d="M46.00,231.51 L46.71,231.56 L47.42,231.56 L48.13,231.46 L48.84,231.41 L49.55,231.40 L50.26,231.51 L50.97,231.56 L51.68,231.49 L52.39,231.44 L53.10,231.40 L53.81,231.49 L54.52,231.51 L55.23,231.40 L55.94,231.42 L56.65,231.50 L57.36,231.53 L58.07,231.51 L58.78,231.42 L59.49,231.41 L60.20,231.45 L60.91,231.49 L61.62,231.49 L62.33,231.43 L63.04,231.48 L63.75,231.59 L64.46,231.44 L65.17,231.37 L65.41,231.40 L65.52,231.42 L65.64,231.44 L65.76,231.45 L65.88,231.47 L66.00,231.49 L66.12,231.50 L66.24,231.49 L66.35,231.49 L66.47,231.48 L66.59,231.47 L66.71,231.46 L66.83,231.46 L66.94,231.45 L67.06,231.44 L67.18,231.43 L67.30,231.42 L67.42,231.43 L67.54,231.43 L67.66,231.43 L67.77,231.43 L67.89,231.44 L68.01,231.44 L68.13,231.44 L68.25,231.44 L68.36,231.44 L68.48,231.44 L68.60,231.43 L68.72,231.42 L68.84,231.41 L68.96,231.40 L69.08,231.38 L69.19,231.36 L69.31,231.34 L69.43,231.32 L69.55,231.29 L69.67,231.26 L69.78,231.22 L69.90,231.18 L70.02,231.13 L70.14,231.07 L70.26,231.00 L70.38,230.93 L70.50,230.84 L70.61,230.74 L70.73,230.63 L70.85,230.50 L70.97,230.38 L71.09,230.24 L71.20,230.09 L71.32,229.93 L71.44,229.76 L71.56,229.58 L71.68,229.40 L71.80,229.21 L71.92,229.04 L72.03,228.87 L72.15,228.71 L72.27,228.57 L72.39,228.46 L72.51,228.41 L72.62,228.44 L72.74,228.52 L72.86,228.64 L72.98,228.78 L73.10,228.94 L73.22,229.11 L73.33,229.31 L73.45,229.51 L73.57,229.70 L73.69,229.89 L73.81,230.06 L73.93,230.23 L74.05,230.38 L74.16,230.52 L74.28,230.65 L74.40,230.76 L74.52,230.85 L74.64,230.94 L74.75,231.01 L74.87,231.07 L74.99,231.13 L75.11,231.17 L75.23,231.21 L75.35,231.24 L75.47,231.27 L75.58,231.29 L75.70,231.30 L75.82,231.31 L75.94,231.31 L76.06,231.32 L76.17,231.32 L76.29,231.32 L76.41,231.31 L76.53,231.31 L76.65,231.30 L76.77,231.30 L76.89,231.30 L77.00,231.30 L77.12,231.30 L77.24,231.30 L77.36,231.30 L77.48,231.30 L77.59,231.29 L77.71,231.29 L77.83,231.29 L77.95,231.28 L78.07,231.27 L78.19,231.26 L78.31,231.25 L78.42,231.23 L78.54,231.22 L78.66,231.20 L78.78,231.18 L78.90,231.15 L79.01,231.13 L79.13,231.09 L79.25,231.05 L79.37,230.99 L79.49,230.93 L79.61,230.85 L79.73,230.76 L79.84,230.65 L79.96,230.53 L80.08,230.37 L80.20,230.18 L80.32,229.96 L80.43,229.70 L80.55,229.39 L80.67,229.01 L80.79,228.54 L80.91,227.98 L81.03,227.32 L81.15,226.52 L81.26,225.57 L81.38,224.46 L81.50,223.16 L81.62,221.63 L81.74,219.87 L81.85,217.86 L81.97,215.58 L82.09,213.02 L82.21,210.16 L82.33,206.99 L82.45,203.53 L82.57,199.78 L82.68,195.76 L82.80,191.52 L82.92,187.09 L83.04,182.53 L83.16,177.92 L83.27,173.36 L83.39,168.97 L83.51,164.87 L83.63,161.24 L83.75,158.24 L83.87,156.10 L83.99,155.15 L84.10,156.11 L84.22,158.27 L84.34,161.28 L84.46,164.93 L84.58,169.03 L84.69,173.44 L84.81,178.01 L84.93,182.63 L85.05,187.20 L85.17,191.64 L85.29,195.89 L85.41,199.90 L85.52,203.65 L85.64,207.10 L85.76,210.26 L85.88,213.11 L86.00,215.66 L86.11,217.93 L86.23,219.92 L86.35,221.65 L86.47,223.15 L86.59,224.42 L86.71,225.51 L86.83,226.41 L86.94,227.16 L87.06,227.77 L87.18,228.25 L87.30,228.62 L87.42,228.88 L87.53,229.06 L87.65,229.14 L87.77,229.15 L87.89,229.08 L88.01,228.94 L88.13,228.73 L88.25,228.45 L88.36,228.12 L88.48,227.73 L88.60,227.30 L88.72,226.83 L88.84,226.35 L88.95,225.86 L89.07,225.38 L89.19,224.94 L89.31,224.58 L89.43,224.31 L89.55,224.20 L89.67,224.34 L89.78,224.64 L89.90,225.04 L90.02,225.52 L90.14,226.03 L90.26,226.57 L90.38,227.10 L90.49,227.62 L90.61,228.11 L90.73,228.57 L90.85,228.98 L90.97,229.36 L91.08,229.67 L91.20,229.94 L91.32,230.17 L91.44,230.36 L91.56,230.52 L91.68,230.65 L91.80,230.76 L91.91,230.84 L92.03,230.91 L92.15,230.96 L92.27,231.03 L92.39,231.08 L92.50,231.13 L92.62,231.17 L92.74,231.21 L92.86,231.24 L92.98,231.26 L93.10,231.29 L93.22,231.31 L93.33,231.34 L93.45,231.33 L93.57,231.33 L93.69,231.33 L93.81,231.33 L93.92,231.32 L94.04,231.32 L94.16,231.31 L94.28,231.31 L94.40,231.30 L94.52,231.30 L94.64,231.28 L94.75,231.27 L94.87,231.25 L94.99,231.24 L95.11,231.22 L95.23,231.20 L95.34,231.18 L95.46,231.16 L95.58,231.14 L95.70,231.11 L95.82,231.08 L95.94,231.04 L96.06,230.99 L96.17,230.94 L96.29,230.88 L96.41,230.81 L96.53,230.73 L96.65,230.63 L96.76,230.52 L96.88,230.37 L97.00,230.23 L97.12,230.04 L97.24,229.82 L97.36,229.54 L97.48,229.21 L97.59,228.80 L97.71,228.31 L97.83,227.73 L97.95,227.03 L98.07,226.21 L98.18,225.25 L98.30,224.13 L98.42,222.85 L98.54,221.37 L98.66,219.70 L98.78,217.81 L98.90,215.70 L99.01,213.37 L99.13,210.82 L99.25,208.05 L99.37,205.07 L99.49,201.91 L99.60,198.61 L99.72,195.21 L99.84,191.78 L99.96,188.38 L100.08,185.11 L100.20,182.06 L100.32,179.35 L100.43,177.11 L100.55,175.52 L100.67,174.81 L100.79,175.52 L100.91,177.11 L101.02,179.34 L101.14,182.04 L101.26,185.08 L101.38,188.34 L101.50,191.73 L101.62,195.15 L101.74,198.54 L101.85,201.83 L101.97,204.98 L102.09,207.95 L102.21,210.73 L102.33,213.29 L102.44,215.63 L102.56,217.74 L102.68,219.64 L102.80,221.32 L102.92,222.82 L103.04,224.12 L103.16,225.26 L103.27,226.24 L103.39,227.08 L103.51,227.80 L103.63,228.40 L103.75,228.91 L103.86,229.34 L103.98,229.70 L104.10,229.99 L104.22,230.23 L104.34,230.43 L104.46,230.59 L104.58,230.72 L104.69,230.83 L104.81,230.92 L104.93,231.00 L105.05,231.06 L105.17,231.11 L105.28,231.14 L105.40,231.17 L105.52,231.19 L105.64,231.21 L105.76,231.22 L105.88,231.23 L106.00,231.24 L106.11,231.25 L106.23,231.25 L106.35,231.26 L106.47,231.27 L106.59,231.27 L106.70,231.28 L106.82,231.28 L106.94,231.29 L107.06,231.29 L107.18,231.30 L107.30,231.30 L107.42,231.30 L107.53,231.31 L107.65,231.30 L107.77,231.30 L108.48,231.28 L109.19,231.27 L109.90,231.26 L110.61,231.39 L111.32,231.46 L112.03,231.46 L112.74,231.46 L113.45,231.44 L114.16,231.46 L114.87,231.46 L115.58,231.43 L116.29,231.42 L117.00,231.43 L117.71,231.44 L118.42,231.43 L119.13,231.39 L119.84,231.42 L120.55,231.48 L121.26,231.51 L121.97,231.55 L122.68,231.57 L123.39,231.56 L124.10,231.54 L124.81,231.54 L125.52,231.55 L126.23,231.59 L126.94,231.53 L127.65,231.44 L128.36,231.46 L129.07,231.48 L129.78,231.50 L130.49,231.52 L131.20,231.54 L131.91,231.57 L132.62,231.58 L133.33,231.55 L134.04,231.47 L134.75,231.36 L135.46,231.52 L136.17,231.60 L136.88,231.51 L137.59,231.46 L138.30,231.44 L139.01,231.46 L139.72,231.48 L140.43,231.50 L141.14,231.48 L141.85,231.44 L142.56,231.51 L143.27,231.54 L143.98,231.47 L144.69,231.43 L145.40,231.39 L146.11,231.49 L146.82,231.55 L147.53,231.54 L148.24,231.52 L148.95,231.48 L149.66,231.45 L150.37,231.42 L151.08,231.41 L151.79,231.42 L152.50,231.44 L153.21,231.50 L153.92,231.54 L154.63,231.56 L155.34,231.53 L156.05,231.47 L156.76,231.47 L157.47,231.48 L158.18,231.54 L158.89,231.53 L159.60,231.49 L160.31,231.48 L161.02,231.46 L161.73,231.43 L162.44,231.47 L163.15,231.55 L163.86,231.49 L164.57,231.48 L165.28,231.54 L165.99,231.55 L166.70,231.52 L167.41,231.50 L168.12,231.47 L168.83,231.41 L169.54,231.35 L170.25,231.28 L170.96,231.40 L171.67,231.47 L172.38,231.46 L173.09,231.45 L173.80,231.43 L174.51,231.52 L175.22,231.55 L175.93,231.47 L176.64,231.49 L177.35,231.57 L178.06,231.46 L178.77,231.39 L179.48,231.39 L180.19,231.42 L180.90,231.46 L181.61,231.51 L181.85,231.53 L181.97,231.53 L182.08,231.54 L182.20,231.53 L182.32,231.51 L182.44,231.49 L182.56,231.48 L182.67,231.46 L182.79,231.45 L182.91,231.43 L183.03,231.41 L183.15,231.40 L183.27,231.38 L183.39,231.39 L183.50,231.40 L183.62,231.41 L183.74,231.42 L183.86,231.43 L183.98,231.44 L184.09,231.45 L184.21,231.45 L184.33,231.46 L184.45,231.47 L184.57,231.47 L184.69,231.47 L184.81,231.48 L184.92,231.48 L185.04,231.48 L185.16,231.48 L185.28,231.48 L185.40,231.48 L185.51,231.48 L185.63,231.48 L185.75,231.48 L185.87,231.47 L185.99,231.47 L186.11,231.47 L186.23,231.46 L186.34,231.46 L186.46,231.45 L186.58,231.45 L186.70,231.44 L186.82,231.43 L186.93,231.44 L187.05,231.45 L187.17,231.45 L187.29,231.45 L187.41,231.45 L187.53,231.43 L187.65,231.42 L187.76,231.39 L187.88,231.35 L188.00,231.31 L188.12,231.23 L188.24,231.14 L188.35,231.04 L188.47,230.94 L188.59,230.85 L188.71,230.76 L188.83,230.69 L188.95,230.65 L189.07,230.67 L189.18,230.71 L189.30,230.78 L189.42,230.85 L189.54,230.93 L189.66,231.01 L189.77,231.08 L189.89,231.15 L190.01,231.20 L190.13,231.25 L190.25,231.29 L190.37,231.32 L190.49,231.35 L190.60,231.37 L190.72,231.39 L190.84,231.41 L190.96,231.42 L191.08,231.43 L191.19,231.44 L191.31,231.45 L191.43,231.46 L191.55,231.46 L191.67,231.46 L191.79,231.47 L191.91,231.47 L192.02,231.47 L192.14,231.47 L192.26,231.47 L192.38,231.47 L192.50,231.48 L192.61,231.48 L192.73,231.48 L192.85,231.49 L192.97,231.49 L193.09,231.50 L193.21,231.51 L193.33,231.52 L193.44,231.52 L193.56,231.53 L193.68,231.54 L193.80,231.54 L193.92,231.55 L194.03,231.54 L194.15,231.53 L194.27,231.52 L194.39,231.51 L194.51,231.50 L194.63,231.49 L194.75,231.48 L194.86,231.47 L194.98,231.46 L195.10,231.45 L195.22,231.45 L195.34,231.45 L195.45,231.46 L195.57,231.46 L195.69,231.46 L195.81,231.47 L195.93,231.47 L196.05,231.47 L196.52,231.48 L197.23,231.49 L197.94,231.50 L198.65,231.53 L199.36,231.47 L200.07,231.43 L200.78,231.41 L201.49,231.43 L202.20,231.47 L202.91,231.45 L203.62,231.43 L204.33,231.41 L205.04,231.40 L205.75,231.39 L206.46,231.44 L207.17,231.48 L207.88,231.50 L208.59,231.51 L209.30,231.51 L210.01,231.50 L210.48,231.48 L210.60,231.48 L210.72,231.48 L210.84,231.47 L210.96,231.47 L211.08,231.46 L211.19,231.46 L211.31,231.46 L211.43,231.45 L211.55,231.45 L211.67,231.45 L211.78,231.44 L211.90,231.44 L212.02,231.44 L212.14,231.43 L212.26,231.43 L212.38,231.43 L212.50,231.42 L212.61,231.42 L212.73,231.42 L212.85,231.41 L212.97,231.42 L213.09,231.43 L213.20,231.44 L213.32,231.45 L213.44,231.45 L213.56,231.46 L213.68,231.47 L213.80,231.47 L213.92,231.48 L214.03,231.48 L214.15,231.48 L214.27,231.47 L214.39,231.46 L214.51,231.44 L214.62,231.43 L214.74,231.41 L214.86,231.38 L214.98,231.35 L215.10,231.31 L215.22,231.27 L215.33,231.21 L215.45,231.15 L215.57,231.06 L215.69,230.94 L215.81,230.80 L215.93,230.61 L216.05,230.38 L216.16,230.10 L216.28,229.76 L216.40,229.35 L216.52,228.85 L216.64,228.26 L216.75,227.60 L216.87,226.87 L216.99,226.07 L217.11,225.23 L217.23,224.38 L217.35,223.57 L217.47,222.90 L217.58,222.51 L217.70,222.89 L217.82,223.56 L217.94,224.36 L218.06,225.21 L218.17,226.05 L218.29,226.84 L218.41,227.58 L218.53,228.23 L218.65,228.81 L218.77,229.31 L218.89,229.72 L219.00,230.07 L219.12,230.35 L219.24,230.58 L219.36,230.77 L219.48,230.92 L219.59,231.04 L219.71,231.13 L219.83,231.20 L219.95,231.25 L220.07,231.30 L220.19,231.35 L220.31,231.38 L220.42,231.41 L220.54,231.43 L220.66,231.45 L220.78,231.47 L220.90,231.48 L221.01,231.49 L221.13,231.50 L221.25,231.50 L221.37,231.50 L221.49,231.50 L221.61,231.50 L221.73,231.50 L221.84,231.50 L221.96,231.50 L222.08,231.50 L222.20,231.50 L222.32,231.49 L222.43,231.50 L222.55,231.50 L222.67,231.50 L222.79,231.51 L222.91,231.51 L223.03,231.51 L223.15,231.52 L223.26,231.52 L223.38,231.52 L223.50,231.53 L223.62,231.51 L223.74,231.50 L223.85,231.48 L223.97,231.47 L224.09,231.45 L224.21,231.43 L224.33,231.42 L224.45,231.40 L224.57,231.39 L224.68,231.37 L224.92,231.39 L225.63,231.45 L226.34,231.48 L227.05,231.50 L227.76,231.53 L228.47,231.55 L229.18,231.53 L229.89,231.50 L230.60,231.45 L231.31,231.41 L232.02,231.42 L232.73,231.54 L233.44,231.57 L234.15,231.55 L234.86,231.52 L235.57,231.51 L236.28,231.52 L236.99,231.56 L237.70,231.60 L238.41,231.53 L238.65,231.51 L238.76,231.50 L238.88,231.49 L239.00,231.48 L239.12,231.48 L239.24,231.47 L239.36,231.47 L239.48,231.46 L239.59,231.46 L239.71,231.45 L239.83,231.45 L239.95,231.44 L240.07,231.44 L240.18,231.45 L240.30,231.47 L240.42,231.48 L240.54,231.50 L240.66,231.51 L240.78,231.53 L240.90,231.54 L241.01,231.56 L241.13,231.57 L241.25,231.59 L241.37,231.58 L241.49,231.57 L241.60,231.55 L241.72,231.54 L241.84,231.53 L241.96,231.52 L242.08,231.51 L242.20,231.49 L242.32,231.48 L242.43,231.47 L242.55,231.46 L242.67,231.46 L242.79,231.45 L242.91,231.45 L243.02,231.44 L243.14,231.43 L243.26,231.42 L243.38,231.41 L243.50,231.40 L243.62,231.38 L243.74,231.37 L243.85,231.34 L243.97,231.31 L244.09,231.27 L244.21,231.22 L244.33,231.15 L244.44,231.07 L244.56,230.96 L244.68,230.84 L244.80,230.68 L244.92,230.52 L245.04,230.33 L245.16,230.14 L245.27,229.93 L245.39,229.73 L245.51,229.56 L245.63,229.43 L245.75,229.37 L245.86,229.45 L245.98,229.59 L246.10,229.76 L246.22,229.95 L246.34,230.15 L246.46,230.34 L246.58,230.51 L246.69,230.67 L246.81,230.80 L246.93,230.91 L247.05,231.00 L247.17,231.07 L247.28,231.15 L247.40,231.21 L247.52,231.26 L247.64,231.30 L247.76,231.34 L247.88,231.36 L248.00,231.39 L248.11,231.40 L248.23,231.42 L248.35,231.44 L248.47,231.45 L248.59,231.46 L248.70,231.47 L248.82,231.48 L248.94,231.49 L249.06,231.50 L249.18,231.51 L249.30,231.52 L249.42,231.53 L249.53,231.54 L249.65,231.53 L249.77,231.51 L249.89,231.50 L250.01,231.49 L250.12,231.48 L250.24,231.47 L250.36,231.46 L250.48,231.45 L250.60,231.44 L250.72,231.42 L250.83,231.44 L250.95,231.45 L251.07,231.47 L251.19,231.48 L251.31,231.49 L251.43,231.51 L251.55,231.52 L251.66,231.53 L251.78,231.55 L251.90,231.56 L252.02,231.55 L252.14,231.54 L252.25,231.52 L252.37,231.51 L252.49,231.50 L252.61,231.48 L252.73,231.47 L252.85,231.46 L253.32,231.46 L254.03,231.54 L254.74,231.52 L255.21,231.47 L255.33,231.45 L255.45,231.44 L255.57,231.45 L255.69,231.46 L255.81,231.47 L255.92,231.47 L256.04,231.48 L256.16,231.49 L256.28,231.50 L256.40,231.51 L256.51,231.52 L256.63,231.53 L256.75,231.52 L256.87,231.50 L256.99,231.49 L257.11,231.48 L257.23,231.47 L257.34,231.46 L257.46,231.45 L257.58,231.44 L257.70,231.43 L257.82,231.42 L257.93,231.42 L258.05,231.42 L258.17,231.42 L258.29,231.43 L258.41,231.43 L258.53,231.43 L258.65,231.43 L258.76,231.44 L258.88,231.44 L259.00,231.44 L259.12,231.44 L259.24,231.44 L259.35,231.45 L259.47,231.45 L259.59,231.45 L259.71,231.45 L259.83,231.45 L259.95,231.45 L260.07,231.45 L260.18,231.45 L260.30,231.45 L260.42,231.45 L260.54,231.44 L260.66,231.43 L260.77,231.42 L260.89,231.41 L261.01,231.39 L261.13,231.37 L261.25,231.34 L261.37,231.31 L261.49,231.26 L261.60,231.21 L261.72,231.15 L261.84,231.09 L261.96,231.03 L262.08,230.98 L262.19,230.94 L262.31,230.92 L262.43,230.93 L262.55,230.96 L262.67,231.02 L262.79,231.09 L262.91,231.16 L263.02,231.23 L263.14,231.29 L263.26,231.35 L263.38,231.41 L263.50,231.46 L263.61,231.50 L263.73,231.54 L263.85,231.54 L263.97,231.54 L264.09,231.53 L264.21,231.53 L264.33,231.52 L264.44,231.51 L264.56,231.50 L264.68,231.48 L264.80,231.47 L264.92,231.46 L265.03,231.46 L265.15,231.46 L265.27,231.46 L265.39,231.46 L265.51,231.46 L265.63,231.46 L265.75,231.46 L265.86,231.46 L265.98,231.46 L266.10,231.46 L266.22,231.46 L266.34,231.46 L266.45,231.46 L266.57,231.46 L266.69,231.46 L266.81,231.46 L266.93,231.45 L267.05,231.45 L267.17,231.45 L267.28,231.45 L267.40,231.45 L267.52,231.45 L267.64,231.45 L267.76,231.44 L267.88,231.44 L267.99,231.44 L268.11,231.44 L268.23,231.44 L268.35,231.44 L268.47,231.43 L268.58,231.42 L268.70,231.40 L268.82,231.38 L268.94,231.36 L269.06,231.34 L269.18,231.32 L269.30,231.30 L269.41,231.29 L269.65,231.25 L270.36,231.39 L271.07,231.47 L271.78,231.44 L272.49,231.45 L273.20,231.48 L273.91,231.42 L274.62,231.43 L275.33,231.57 L276.04,231.52 L276.75,231.37 L277.46,231.46 L278.17,231.54 L278.88,231.60 L279.59,231.59 L280.30,231.54 L281.01,231.49 L281.13,231.49 L281.25,231.48 L281.36,231.47 L281.48,231.47 L281.60,231.46 L281.72,231.46 L281.84,231.46 L281.96,231.45 L282.08,231.45 L282.19,231.44 L282.31,231.44 L282.43,231.43 L282.55,231.43 L282.67,231.42 L282.78,231.42 L282.90,231.42 L283.02,231.42 L283.14,231.42 L283.26,231.42 L283.38,231.41 L283.50,231.41 L283.61,231.40 L283.73,231.40 L283.85,231.39 L283.97,231.37 L284.09,231.36 L284.20,231.33 L284.32,231.31 L284.44,231.28 L284.56,231.24 L284.68,231.20 L284.80,231.15 L284.92,231.08 L285.03,231.00 L285.15,230.91 L285.27,230.80 L285.39,230.67 L285.51,230.49 L285.62,230.28 L285.74,230.02 L285.86,229.70 L285.98,229.32 L286.10,228.85 L286.22,228.30 L286.33,227.64 L286.45,226.85 L286.57,225.94 L286.69,224.89 L286.81,223.69 L286.93,222.32 L287.05,220.79 L287.16,219.10 L287.28,217.26 L287.40,215.29 L287.52,213.24 L287.64,211.16 L287.75,209.14 L287.87,207.28 L287.99,205.77 L288.11,204.93 L288.23,205.80 L288.35,207.34 L288.47,209.22 L288.58,211.27 L288.70,213.35 L288.82,215.39 L288.94,217.34 L289.06,219.17 L289.17,220.84 L289.29,222.35 L289.41,223.70 L289.53,224.89 L289.65,225.93 L289.77,226.82 L289.89,227.60 L290.00,228.26 L290.12,228.82 L290.24,229.28 L290.36,229.67 L290.48,229.99 L290.59,230.25 L290.71,230.47 L290.83,230.64 L290.95,230.78 L291.07,230.90 L291.19,231.01 L291.31,231.09 L291.42,231.16 L291.54,231.22 L291.66,231.26 L291.78,231.30 L291.90,231.34 L292.01,231.37 L292.13,231.39 L292.25,231.41 L292.37,231.43 L292.49,231.45 L292.61,231.47 L292.73,231.48 L292.84,231.50 L292.96,231.51 L293.08,231.53 L293.20,231.54 L293.32,231.55 L293.43,231.55 L293.55,231.55 L293.67,231.55 L293.79,231.55 L293.91,231.55 L294.03,231.55 L294.15,231.54 L294.26,231.54 L294.38,231.54 L294.50,231.54 L294.62,231.52 L294.74,231.50 L294.85,231.48 L294.97,231.47 L295.09,231.45 L295.21,231.43 L295.92,231.39 L296.63,231.48 L297.34,231.51 L298.05,231.52 L298.76,231.53 L299.47,231.51 L300.18,231.46 L300.89,231.47 L301.60,231.52 L302.31,231.53 L303.02,231.55 L303.73,231.58 L304.44,231.55 L305.15,231.49 L305.86,231.45 L306.57,231.44 L307.28,231.48 L307.99,231.47 L308.70,231.43 L309.41,231.46 L310.12,231.48 L310.83,231.48 L311.54,231.48 L312.25,231.48 L312.96,231.48 L313.67,231.48 L314.38,231.44 L315.09,231.44 L315.80,231.46 L316.51,231.50 L317.22,231.52 L317.93,231.49 L318.64,231.49 L319.35,231.50 L320.06,231.47 L320.77,231.46 L321.48,231.48 L322.19,231.47 L322.90,231.47 L323.61,231.54 L324.32,231.56 L325.03,231.49 L325.74,231.44 L326.45,231.41 L327.16,231.51 L327.87,231.54 L328.58,231.43 L329.29,231.42 L330.00,231.47" stroke="#2222ff" stroke-width="0.95"/>
</g>
<rect x="46.0" y="6.0" width="284.0" height="229.0" fill="none" stroke="#484848" stroke-width="1.4"/>
<text class="tk" x="41.2" y="234.4" text-anchor="end">0</text>
<text class="tk" x="41.2" y="202.1" text-anchor="end">100</text>
<text class="tk" x="41.2" y="169.9" text-anchor="end">200</text>
<text class="tk" x="41.2" y="137.6" text-anchor="end">300</text>
<text class="tk" x="41.2" y="105.4" text-anchor="end">400</text>
<text class="tk" x="41.2" y="73.1" text-anchor="end">500</text>
<text class="tk" x="41.2" y="40.8" text-anchor="end">600</text>
<text class="tk" x="41.2" y="8.6" text-anchor="end">700</text>
<text class="tk" x="46.0" y="246.9" text-anchor="middle">278</text>
<text class="tk" x="93.3" y="246.9" text-anchor="middle">280</text>
<text class="tk" x="140.7" y="246.9" text-anchor="middle">282</text>
<text class="tk" x="188.0" y="246.9" text-anchor="middle">284</text>
<text class="tk" x="235.3" y="246.9" text-anchor="middle">286</text>
<text class="tk" x="282.7" y="246.9" text-anchor="middle">288</text>
<text class="tk" x="330.0" y="246.9" text-anchor="middle">290</text>
<text class="ax" x="188.8" y="263.2" text-anchor="middle">Wavelength(nm)</text>
<text class="ax" style="font-size:12.8px" transform="translate(10.9 122.6) rotate(-90)" text-anchor="middle">Normalized Intensity</text>
<text class="lb" x="196.2" y="24.6" text-anchor="middle">BRELIBS-Cu</text>
<text class="lb" x="85.2" y="31.8" text-anchor="middle">Mg</text>
<text class="lb" x="103.1" y="46.3" text-anchor="middle">Mg</text>
<text class="lb" x="73.1" y="187.7" text-anchor="middle">Mg</text>
<text class="lb" x="92.0" y="156.0" text-anchor="middle">Mg</text>
<text class="lb" x="218.2" y="186.0" text-anchor="middle">Mg</text>
<text class="lb" x="288.3" y="122.7" text-anchor="middle">Si</text>
<rect x="259.4" y="10.1" width="64.0" height="39.6" rx="1" ry="1" fill="#fff" stroke="#666" stroke-width="1.0"/>
<line x1="267.0" x2="291.8" y1="17.5" y2="17.5" stroke="#222" stroke-width="0.7" stroke-dasharray="1.7 1.3"/>
<line x1="267.0" x2="291.8" y1="30.5" y2="30.5" stroke="#ff2a2a" stroke-width="0.5" stroke-dasharray="3.3 1.0"/>
<line x1="267.0" x2="291.8" y1="44.0" y2="44.0" stroke="#2a2aff" stroke-width="0.85"/>
<text class="lb" x="295.0" y="21.4">1mm</text>
<text class="lb" x="295.0" y="34.4">3mm</text>
<text class="lb" x="295.0" y="47.9">6mm</text>
<clipPath id="clip_right"><rect x="394.5" y="6.0" width="284.0" height="229.0"/></clipPath>
<g clip-path="url(#clip_right)" fill="none" stroke-linejoin="round">
<path d="M394.50,229.62 L395.21,230.22 L395.92,230.47 L396.63,230.70 L397.34,230.77 L398.05,230.77 L398.76,230.73 L399.47,230.72 L400.18,230.80 L400.89,230.82 L401.60,230.81 L402.31,230.82 L403.02,230.80 L403.73,230.75 L404.44,230.70 L405.15,230.66 L405.86,230.66 L406.57,230.66 L407.28,230.65 L407.99,230.67 L408.70,230.69 L409.41,230.66 L410.12,230.64 L410.83,230.66 L411.54,230.57 L412.25,230.42 L412.96,230.48 L413.08,230.49 L413.20,230.50 L413.32,230.51 L413.43,230.52 L413.55,230.53 L413.67,230.54 L413.79,230.55 L413.91,230.57 L414.02,230.58 L414.14,230.59 L414.26,230.60 L414.38,230.61 L414.50,230.62 L414.62,230.63 L414.74,230.61 L414.85,230.60 L414.97,230.58 L415.09,230.56 L415.21,230.54 L415.33,230.52 L415.44,230.50 L415.56,230.48 L415.68,230.45 L415.80,230.42 L415.92,230.38 L416.04,230.32 L416.16,230.26 L416.27,230.20 L416.39,230.12 L416.51,230.03 L416.63,229.93 L416.75,229.81 L416.86,229.67 L416.98,229.51 L417.10,229.37 L417.22,229.19 L417.34,228.98 L417.46,228.72 L417.58,228.42 L417.69,228.07 L417.81,227.66 L417.93,227.19 L418.05,226.66 L418.17,226.06 L418.26,225.49 M421.85,225.49 L421.95,226.08 L422.07,226.69 L422.19,227.23 L422.31,227.71 L422.43,228.13 L422.55,228.49 L422.66,228.79 L422.78,229.05 L422.90,229.27 L423.02,229.46 L423.14,229.62 L423.25,229.75 L423.37,229.86 L423.49,229.94 L423.61,230.01 L423.73,230.06 L423.85,230.09 L423.97,230.12 L424.08,230.14 L424.20,230.17 L424.32,230.20 L424.44,230.22 L424.56,230.24 L424.67,230.26 L424.79,230.27 L424.91,230.27 L425.03,230.28 L425.15,230.28 L425.27,230.27 L425.39,230.23 L425.50,230.19 L425.62,230.14 L425.74,230.09 L425.86,230.04 L425.98,229.98 L426.09,229.93 L426.21,229.86 L426.33,229.80 L426.45,229.73 L426.57,229.69 L426.69,229.64 L426.81,229.59 L426.92,229.54 L427.04,229.48 L427.16,229.41 L427.28,229.34 L427.40,229.25 L427.51,229.16 L427.63,229.06 L427.75,228.93 L427.87,228.77 L427.99,228.59 L428.11,228.37 L428.23,228.08 L428.34,227.70 L428.46,227.18 L428.58,226.46 L428.70,225.49 M439.30,225.49 L439.35,225.88 L439.47,226.64 L439.58,227.26 L439.70,227.77 L439.82,228.19 L439.94,228.53 L440.06,228.81 L440.18,229.03 L440.30,229.20 L440.41,229.35 L440.53,229.46 L440.65,229.55 L440.77,229.64 L440.89,229.72 L441.00,229.78 L441.12,229.84 L441.24,229.88 L441.36,229.92 L441.48,229.96 L441.60,229.99 L441.72,230.01 L441.83,230.04 L441.95,230.03 L442.07,230.02 L442.19,230.00 L442.31,229.98 L442.42,229.96 L442.54,229.94 L442.66,229.91 L442.78,229.88 L442.90,229.84 L443.02,229.81 L443.14,229.77 L443.25,229.74 L443.37,229.70 L443.49,229.65 L443.61,229.60 L443.73,229.55 L443.84,229.49 L443.96,229.42 L444.08,229.35 L444.20,229.27 L444.32,229.20 L444.44,229.12 L444.56,229.02 L444.67,228.89 L444.79,228.73 L444.91,228.52 L445.03,228.23 L445.15,227.83 L445.26,227.26 L445.38,226.47 L445.49,225.49 M451.00,225.49 L451.06,226.11 L451.18,226.92 L451.30,227.51 L451.42,227.95 L451.54,228.27 L451.66,228.52 L451.77,228.71 L451.89,228.87 L452.01,229.01 L452.13,229.13 L452.25,229.23 L452.36,229.33 L452.48,229.42 L452.60,229.50 L452.72,229.57 L452.84,229.65 L452.96,229.71 L453.08,229.78 L453.19,229.84 L453.31,229.89 L453.43,229.94 L453.55,229.99 L453.67,230.04 L453.78,230.09 L453.90,230.13 L454.02,230.17 L454.14,230.21 L454.26,230.25 L454.38,230.29 L454.50,230.32 L454.61,230.35 L454.73,230.38 L454.85,230.41 L454.97,230.45 L455.09,230.48 L455.20,230.51 L455.32,230.54 L455.56,230.59 L456.27,230.72 L456.98,230.78 L457.69,230.85 L458.40,230.92 L459.11,230.84 L459.82,230.84 L460.53,230.98 L461.24,231.05 L461.95,231.10 L462.66,231.13 L463.37,231.16 L464.08,231.18 L464.79,231.20 L465.50,231.23 L466.21,231.21 L466.92,231.20 L467.63,231.25 L468.34,231.24 L469.05,231.21 L469.76,231.30 L470.47,231.34 L471.18,231.30 L471.89,231.27 L472.60,231.25 L473.31,231.36 L474.02,231.41 L474.73,231.35 L475.44,231.33 L476.15,231.34 L476.86,231.37 L477.57,231.39 L478.28,231.41 L478.99,231.46 L479.70,231.53 L480.41,231.39 L481.12,231.33 L481.83,231.43 L482.54,231.48 L483.25,231.49 L483.96,231.41 L484.67,231.39 L485.38,231.51 L486.09,231.46 L486.80,231.33 L487.51,231.36 L488.22,231.37 L488.93,231.37 L489.64,231.39 L490.35,231.43 L491.06,231.48 L491.77,231.53 L492.48,231.56 L493.19,231.47 L493.90,231.31 L494.61,231.40 L495.32,231.46 L496.03,231.47 L496.74,231.40 L497.45,231.30 L498.16,231.41 L498.87,231.47 L499.58,231.46 L500.29,231.45 L501.00,231.45 L501.71,231.45 L502.42,231.46 L503.13,231.50 L503.84,231.50 L504.55,231.48 L505.26,231.39 L505.97,231.34 L506.68,231.37 L507.39,231.50 L508.10,231.68 L508.81,231.63 L509.52,231.56 L510.23,231.45 L510.94,231.43 L511.65,231.45 L512.36,231.46 L513.07,231.45 L513.78,231.38 L514.49,231.45 L515.20,231.59 L515.91,231.44 L516.62,231.36 L517.33,231.41 L518.04,231.42 L518.75,231.40 L519.46,231.41 L520.17,231.41 L520.88,231.38 L521.59,231.41 L522.30,231.46 L523.01,231.48 L523.72,231.47 L524.43,231.40 L525.14,231.40 L525.85,231.43 L526.56,231.50 L527.27,231.50 L527.98,231.38 L528.69,231.34 L529.40,231.34 L529.52,231.34 L529.64,231.34 L529.75,231.34 L529.87,231.34 L529.99,231.33 L530.11,231.33 L530.23,231.33 L530.35,231.33 L530.47,231.33 L530.58,231.32 L530.70,231.33 L530.82,231.35 L530.94,231.36 L531.06,231.37 L531.17,231.38 L531.29,231.39 L531.41,231.40 L531.53,231.41 L531.65,231.42 L531.77,231.43 L531.89,231.43 L532.00,231.43 L532.12,231.42 L532.24,231.42 L532.36,231.42 L532.48,231.42 L532.59,231.41 L532.71,231.41 L532.83,231.41 L532.95,231.40 L533.07,231.41 L533.19,231.41 L533.31,231.42 L533.42,231.42 L533.54,231.43 L533.66,231.43 L533.78,231.44 L533.90,231.44 L534.01,231.44 L534.13,231.45 L534.25,231.45 L534.37,231.45 L534.49,231.44 L534.61,231.44 L534.73,231.42 L534.84,231.40 L534.96,231.38 L535.08,231.34 L535.20,231.30 L535.32,231.24 L535.43,231.15 L535.55,231.05 L535.67,230.95 L535.79,230.83 L535.91,230.71 L536.03,230.60 L536.15,230.49 L536.26,230.41 L536.38,230.35 L536.50,230.33 L536.62,230.34 L536.74,230.39 L536.85,230.47 L536.97,230.56 L537.09,230.66 L537.21,230.77 L537.33,230.88 L537.45,230.98 L537.57,231.07 L537.68,231.14 L537.80,231.21 L537.92,231.27 L538.04,231.32 L538.16,231.36 L538.27,231.39 L538.39,231.41 L538.51,231.43 L538.63,231.44 L538.75,231.46 L538.87,231.47 L538.99,231.45 L539.10,231.43 L539.22,231.42 L539.34,231.40 L539.46,231.38 L539.58,231.36 L539.69,231.34 L539.81,231.32 L539.93,231.30 L540.05,231.28 L540.17,231.31 L540.29,231.34 L540.41,231.37 L540.52,231.40 L540.64,231.42 L540.76,231.45 L540.88,231.48 L541.00,231.51 L541.11,231.54 L541.23,231.56 L541.35,231.56 L541.47,231.55 L541.59,231.55 L541.71,231.54 L541.83,231.53 L541.94,231.53 L542.06,231.52 L542.18,231.51 L542.30,231.51 L542.42,231.50 L542.53,231.50 L542.65,231.50 L542.77,231.50 L542.89,231.50 L543.01,231.50 L543.13,231.49 L543.25,231.49 L543.36,231.49 L543.48,231.49 L543.60,231.49 L544.31,231.39 L545.02,231.36 L545.73,231.43 L546.44,231.46 L547.15,231.46 L547.86,231.48 L548.57,231.50 L549.28,231.49 L549.99,231.50 L550.70,231.53 L551.41,231.41 L552.12,231.34 L552.83,231.36 L553.54,231.35 L554.25,231.32 L554.96,231.39 L555.67,231.39 L556.38,231.22 L557.09,231.27 L557.80,231.42 L558.04,231.43 L558.16,231.44 L558.27,231.44 L558.39,231.45 L558.51,231.45 L558.63,231.45 L558.75,231.46 L558.86,231.46 L558.98,231.46 L559.10,231.44 L559.22,231.42 L559.34,231.40 L559.46,231.38 L559.58,231.36 L559.69,231.34 L559.81,231.31 L559.93,231.29 L560.05,231.27 L560.17,231.24 L560.28,231.23 L560.40,231.21 L560.52,231.19 L560.64,231.17 L560.76,231.16 L560.88,231.13 L561.00,231.11 L561.11,231.09 L561.23,231.06 L561.35,231.03 L561.47,230.99 L561.59,230.95 L561.70,230.90 L561.82,230.85 L561.94,230.79 L562.06,230.72 L562.18,230.63 L562.30,230.53 L562.42,230.41 L562.53,230.26 L562.65,230.11 L562.77,229.92 L562.89,229.69 L563.01,229.40 L563.12,229.05 L563.24,228.63 L563.36,228.13 L563.48,227.52 L563.60,226.80 L563.72,225.95 L563.77,225.49 M566.52,225.49 L566.56,225.81 L566.67,226.70 L566.79,227.46 L566.91,228.10 L567.03,228.64 L567.15,229.09 L567.27,229.47 L567.39,229.77 L567.50,230.02 L567.62,230.22 L567.74,230.39 L567.86,230.53 L567.98,230.64 L568.09,230.74 L568.21,230.82 L568.33,230.89 L568.45,230.94 L568.57,231.00 L568.69,231.05 L568.81,231.09 L568.92,231.13 L569.04,231.16 L569.16,231.20 L569.28,231.23 L569.40,231.25 L569.51,231.28 L569.63,231.30 L569.75,231.30 L569.87,231.30 L569.99,231.30 L570.11,231.29 L570.23,231.29 L570.34,231.28 L570.46,231.27 L570.58,231.27 L570.70,231.26 L570.82,231.25 L570.93,231.25 L571.05,231.26 L571.17,231.26 L571.29,231.26 L571.41,231.26 L571.53,231.26 L571.65,231.26 L571.76,231.26 L571.88,231.26 L572.00,231.26 L572.12,231.26 L572.24,231.27 L572.71,231.28 L573.42,231.30 L574.13,231.31 L574.84,231.30 L575.55,231.28 L576.26,231.35 L576.97,231.38 L577.68,231.35 L578.39,231.40 L579.10,231.50 L579.81,231.49 L580.52,231.47 L581.23,231.42 L581.94,231.44 L582.65,231.49 L583.36,231.43 L584.07,231.37 L584.78,231.33 L585.49,231.35 L586.20,231.40 L586.32,231.41 L586.44,231.42 L586.56,231.43 L586.67,231.44 L586.79,231.44 L586.91,231.45 L587.03,231.46 L587.15,231.47 L587.26,231.48 L587.38,231.49 L587.50,231.49 L587.62,231.49 L587.74,231.49 L587.86,231.49 L587.98,231.49 L588.09,231.49 L588.21,231.49 L588.33,231.49 L588.45,231.49 L588.57,231.49 L588.68,231.47 L588.80,231.45 L588.92,231.44 L589.04,231.42 L589.16,231.40 L589.28,231.38 L589.40,231.37 L589.51,231.35 L589.63,231.33 L589.75,231.31 L589.87,231.33 L589.99,231.35 L590.10,231.36 L590.22,231.38 L590.34,231.39 L590.46,231.41 L590.58,231.43 L590.70,231.44 L590.82,231.45 L590.93,231.47 L591.05,231.45 L591.17,231.44 L591.29,231.42 L591.41,231.40 L591.52,231.37 L591.64,231.33 L591.76,231.29 L591.88,231.23 L592.00,231.15 L592.12,231.06 L592.24,230.97 L592.35,230.86 L592.47,230.73 L592.59,230.60 L592.71,230.46 L592.83,230.32 L592.94,230.20 L593.06,230.11 L593.18,230.05 L593.30,230.03 L593.42,230.05 L593.54,230.11 L593.66,230.21 L593.77,230.33 L593.89,230.46 L594.01,230.60 L594.13,230.73 L594.25,230.86 L594.36,230.97 L594.48,231.07 L594.60,231.14 L594.72,231.20 L594.84,231.24 L594.96,231.27 L595.08,231.30 L595.19,231.31 L595.31,231.32 L595.43,231.32 L595.55,231.32 L595.67,231.31 L595.78,231.33 L595.90,231.35 L596.02,231.36 L596.14,231.38 L596.26,231.39 L596.38,231.41 L596.50,231.42 L596.61,231.44 L596.73,231.45 L596.85,231.47 L596.97,231.47 L597.09,231.48 L597.20,231.49 L597.32,231.50 L597.44,231.50 L597.56,231.51 L597.68,231.52 L597.80,231.53 L597.92,231.53 L598.03,231.54 L598.15,231.52 L598.27,231.50 L598.39,231.47 L598.51,231.45 L598.62,231.43 L598.74,231.41 L598.86,231.38 L598.98,231.36 L599.10,231.34 L599.22,231.31 L599.33,231.32 L599.45,231.33 L599.57,231.34 L599.69,231.35 L599.81,231.36 L599.93,231.37 L600.05,231.38 L600.16,231.39 L600.28,231.40 L600.40,231.41 L601.11,231.39 L601.82,231.38 L602.53,231.42 L602.77,231.43 L602.89,231.43 L603.00,231.42 L603.12,231.41 L603.24,231.41 L603.36,231.40 L603.48,231.39 L603.59,231.39 L603.71,231.38 L603.83,231.37 L603.95,231.37 L604.07,231.36 L604.19,231.36 L604.31,231.35 L604.42,231.35 L604.54,231.34 L604.66,231.34 L604.78,231.34 L604.90,231.33 L605.01,231.33 L605.13,231.32 L605.25,231.32 L605.37,231.32 L605.49,231.32 L605.61,231.32 L605.73,231.32 L605.84,231.32 L605.96,231.32 L606.08,231.31 L606.20,231.31 L606.32,231.31 L606.43,231.32 L606.55,231.34 L606.67,231.35 L606.79,231.36 L606.91,231.37 L607.03,231.38 L607.15,231.40 L607.26,231.41 L607.38,231.42 L607.50,231.43 L607.62,231.43 L607.74,231.42 L607.85,231.42 L607.97,231.41 L608.09,231.40 L608.21,231.38 L608.33,231.36 L608.45,231.34 L608.57,231.30 L608.68,231.26 L608.80,231.20 L608.92,231.13 L609.04,231.05 L609.16,230.97 L609.27,230.89 L609.39,230.81 L609.51,230.74 L609.63,230.68 L609.75,230.64 L609.87,230.62 L609.99,230.64 L610.10,230.67 L610.22,230.72 L610.34,230.79 L610.46,230.87 L610.58,230.94 L610.69,231.02 L610.81,231.09 L610.93,231.15 L611.05,231.21 L611.17,231.25 L611.29,231.28 L611.41,231.30 L611.52,231.32 L611.64,231.34 L611.76,231.34 L611.88,231.35 L612.00,231.35 L612.11,231.35 L612.23,231.35 L612.35,231.36 L612.47,231.38 L612.59,231.39 L612.71,231.40 L612.83,231.41 L612.94,231.42 L613.06,231.43 L613.18,231.44 L613.30,231.45 L613.42,231.46 L613.53,231.48 L613.65,231.49 L613.77,231.50 L613.89,231.51 L614.01,231.53 L614.13,231.54 L614.25,231.55 L614.36,231.57 L614.48,231.58 L614.60,231.59 L614.72,231.57 L614.84,231.55 L614.95,231.52 L615.07,231.50 L615.19,231.48 L615.31,231.45 L615.43,231.43 L615.55,231.41 L615.67,231.39 L615.78,231.36 L615.90,231.36 L616.02,231.36 L616.14,231.35 L616.26,231.35 L616.38,231.35 L616.49,231.34 L616.61,231.34 L616.73,231.34 L616.85,231.33 L616.97,231.33 L617.44,231.33 L618.15,231.33 L618.86,231.28 L619.57,231.25 L620.28,231.28 L620.99,231.33 L621.70,231.38 L622.41,231.30 L623.12,231.26 L623.83,231.30 L624.54,231.25 L625.25,231.16 L625.96,231.18 L626.67,231.18 L627.38,231.12 L628.09,231.07 L628.68,231.02 L628.80,231.01 L628.92,230.99 L629.04,230.98 L629.16,230.96 L629.27,230.95 L629.39,230.93 L629.51,230.91 L629.63,230.89 L629.75,230.87 L629.86,230.85 L629.98,230.83 L630.10,230.81 L630.22,230.80 L630.34,230.78 L630.46,230.76 L630.58,230.74 L630.69,230.71 L630.81,230.68 L630.93,230.65 L631.05,230.61 L631.17,230.57 L631.28,230.49 L631.40,230.41 L631.52,230.31 L631.64,230.21 L631.76,230.09 L631.88,229.96 L632.00,229.80 L632.11,229.63 L632.23,229.42 L632.35,229.19 L632.47,228.94 L632.59,228.65 L632.70,228.31 L632.82,227.90 L632.94,227.41 L633.06,226.84 L633.18,226.16 L633.28,225.49 M638.31,225.49 L638.39,226.01 L638.50,226.72 L638.62,227.32 L638.74,227.83 L638.86,228.27 L638.98,228.64 L639.09,228.96 L639.21,229.23 L639.33,229.46 L639.45,229.66 L639.57,229.83 L639.69,229.98 L639.81,230.11 L639.92,230.22 L640.04,230.32 L640.16,230.41 L640.28,230.49 L640.40,230.56 L640.51,230.62 L640.63,230.68 L640.75,230.70 L640.87,230.71 L640.99,230.72 L641.11,230.73 L641.23,230.73 L641.34,230.74 L641.46,230.74 L641.58,230.73 L641.70,230.73 L641.82,230.72 L641.93,230.77 L642.05,230.82 L642.17,230.87 L642.29,230.91 L642.41,230.96 L642.53,231.00 L642.65,231.04 L642.76,231.09 L642.88,231.13 L643.00,231.17 L643.71,231.12 L644.42,231.15 L645.13,231.35 L645.84,231.36 L646.55,231.28 L647.26,231.26 L647.97,231.27 L648.68,231.30 L649.39,231.33 L650.10,231.36 L650.81,231.40 L651.52,231.44 L652.23,231.45 L652.94,231.40 L653.65,231.31 L654.36,231.34 L655.07,231.38 L655.78,231.41 L656.49,231.41 L657.20,231.40 L657.91,231.45 L658.62,231.46 L659.33,231.37 L660.04,231.33 L660.75,231.32 L661.46,231.42 L662.17,231.48 L662.88,231.44 L663.59,231.39 L664.30,231.35 L665.01,231.43 L665.72,231.44 L666.43,231.32 L667.14,231.29 L667.85,231.32 L668.56,231.40 L669.27,231.44 L669.98,231.38 L670.69,231.34 L671.40,231.31 L672.11,231.45 L672.82,231.51 L673.53,231.42 L674.24,231.42 L674.95,231.46 L675.66,231.46 L676.37,231.45 L677.08,231.40 L677.79,231.43 L678.50,231.49" stroke="#111" stroke-width="0.85" stroke-dasharray="1.6 1.4"/>
<path d="M420.06,212.80 L419.94,212.97 L419.82,213.38 L419.70,214.00 L419.59,214.77 L419.47,215.67 L419.35,216.66 L419.23,217.70 L419.11,218.76 L419.00,219.83 L418.88,220.87 L418.76,221.88 L418.64,222.84 L418.52,223.75 L418.40,224.58 L418.28,225.36 L418.26,225.49" stroke="#222" stroke-width="1.0" stroke-dasharray="1.2 1.6" stroke-dashoffset="0"/>
<path d="M420.06,212.80 L420.18,212.96 L420.30,213.36 L420.42,213.97 L420.53,214.74 L420.65,215.65 L420.77,216.64 L420.89,217.69 L421.01,218.77 L421.12,219.84 L421.24,220.90 L421.36,221.92 L421.48,222.89 L421.60,223.80 L421.72,224.65 L421.83,225.40 L421.85,225.49" stroke="#222" stroke-width="1.0" stroke-dasharray="1.2 1.6" stroke-dashoffset="0.8"/>
<path d="M431.54,66.77 L431.42,67.15 L431.30,68.59 L431.18,71.40 L431.07,75.73 L430.95,81.62 L430.83,89.03 L430.71,97.82 L430.59,107.80 L430.47,118.70 L430.35,130.19 L430.24,141.94 L430.12,153.61 L430.00,164.85 L429.88,175.42 L429.76,185.06 L429.65,193.63 L429.53,201.05 L429.41,207.31 L429.29,212.45 L429.17,216.57 L429.05,219.80 L428.93,222.27 L428.82,224.12 L428.70,225.47 L428.70,225.49" stroke="#222" stroke-width="1.0" stroke-dasharray="1.2 1.6" stroke-dashoffset="0"/>
<path d="M431.54,66.77 L431.66,67.13 L431.77,68.56 L431.89,71.35 L432.01,75.66 L432.13,81.53 L432.25,88.91 L432.37,97.68 L432.49,107.62 L432.60,118.47 L432.72,129.91 L432.84,141.61 L432.96,153.22 L433.08,164.41 L433.19,174.89 L433.31,184.45 L433.43,192.93 L433.55,200.24 L433.67,206.41 L433.79,211.43 L433.91,215.42 L434.02,218.47 L434.14,220.72 L434.26,222.30 L434.38,223.34 L434.50,223.93 L434.61,224.15 L434.73,224.07 L434.85,223.69 L434.97,223.07 L435.09,222.22 L435.21,221.14 L435.33,219.82 L435.44,218.26 L435.56,216.45 L435.68,214.39 L435.80,212.10 L435.92,209.57 L436.03,206.86 L436.15,203.99 L436.27,201.02 L436.39,198.02 L436.51,195.10 L436.63,192.37 L436.75,189.96 L436.86,188.03 L436.98,186.72 L437.10,186.22 L437.22,186.79 L437.34,188.16 L437.45,190.17 L437.57,192.65 L437.69,195.45 L437.81,198.45 L437.93,201.52 L438.05,204.57 L438.17,207.52 L438.28,210.32 L438.40,212.95 L438.52,215.35 L438.64,217.52 L438.76,219.46 L438.88,221.16 L438.99,222.63 L439.11,223.90 L439.23,224.98 L439.30,225.49" stroke="#222" stroke-width="1.0" stroke-dasharray="1.2 1.6" stroke-dashoffset="0.8"/>
<path d="M448.22,95.11 L448.10,95.41 L447.99,96.59 L447.87,98.91 L447.75,102.49 L447.63,107.37 L447.51,113.51 L447.40,120.80 L447.28,129.07 L447.16,138.10 L447.04,147.62 L446.92,157.36 L446.80,167.03 L446.68,176.35 L446.57,185.10 L446.45,193.08 L446.33,200.17 L446.21,206.30 L446.09,211.47 L445.98,215.72 L445.86,219.13 L445.74,221.79 L445.62,223.82 L445.50,225.35 L445.49,225.49" stroke="#222" stroke-width="1.0" stroke-dasharray="1.2 1.6" stroke-dashoffset="0"/>
<path d="M448.22,95.11 L448.34,95.41 L448.46,96.61 L448.58,98.93 L448.70,102.51 L448.82,107.39 L448.93,113.52 L449.05,120.43 L449.17,128.70 L449.29,137.72 L449.41,147.25 L449.52,156.99 L449.64,166.65 L449.76,175.98 L449.88,184.72 L450.00,192.71 L450.12,199.80 L450.24,205.94 L450.35,211.11 L450.47,215.36 L450.59,218.76 L450.71,221.43 L450.83,223.46 L450.94,224.98 L451.00,225.49" stroke="#222" stroke-width="1.0" stroke-dasharray="1.2 1.6" stroke-dashoffset="0.8"/>
<path d="M565.14,206.39 L565.02,207.18 L564.90,208.72 L564.78,210.69 L564.66,212.84 L564.55,215.02 L564.43,217.11 L564.31,219.05 L564.19,220.80 L564.07,222.36 L563.95,223.73 L563.83,224.92 L563.77,225.49" stroke="#222" stroke-width="1.0" stroke-dasharray="1.2 1.6" stroke-dashoffset="0"/>
<path d="M565.14,206.39 L565.25,207.16 L565.37,208.69 L565.49,210.63 L565.61,212.76 L565.73,214.92 L565.85,216.99 L565.97,218.90 L566.08,220.63 L566.20,222.20 L566.32,223.58 L566.44,224.78 L566.52,225.49" stroke="#222" stroke-width="1.0" stroke-dasharray="1.2 1.6" stroke-dashoffset="0.8"/>
<path d="M635.78,157.99 L635.66,159.76 L635.55,163.20 L635.43,167.64 L635.31,172.66 L635.19,177.93 L635.07,183.20 L634.95,188.30 L634.83,193.11 L634.72,197.57 L634.60,201.68 L634.48,205.39 L634.36,208.73 L634.24,211.70 L634.12,214.34 L634.01,216.65 L633.89,218.68 L633.77,220.45 L633.65,221.99 L633.53,223.31 L633.42,224.42 L633.30,225.36 L633.28,225.49" stroke="#222" stroke-width="1.0" stroke-dasharray="1.2 1.6" stroke-dashoffset="0"/>
<path d="M635.78,157.99 L635.90,159.76 L636.02,163.18 L636.14,167.61 L636.25,172.62 L636.37,177.87 L636.49,183.13 L636.61,188.21 L636.73,193.01 L636.85,197.46 L636.97,201.54 L637.08,205.22 L637.20,208.55 L637.32,211.52 L637.44,214.14 L637.56,216.45 L637.67,218.47 L637.79,220.23 L637.91,221.75 L638.03,223.07 L638.15,224.21 L638.27,225.18 L638.31,225.49" stroke="#222" stroke-width="1.0" stroke-dasharray="1.2 1.6" stroke-dashoffset="0.8"/>
<path d="M394.50,230.22 L395.21,230.71 L395.92,230.89 L396.63,230.96 L397.34,231.01 L398.05,231.06 L398.76,231.07 L399.47,231.07 L400.18,231.07 L400.89,231.02 L401.60,230.96 L402.31,230.99 L403.02,231.03 L403.73,231.09 L404.44,231.10 L405.15,231.07 L405.86,230.99 L406.57,230.97 L407.28,231.05 L407.99,231.07 L408.70,231.06 L409.41,231.03 L410.12,231.03 L410.83,231.07 L411.54,231.02 L412.25,230.91 L412.96,231.05 L413.08,231.08 L413.20,231.10 L413.32,231.12 L413.43,231.14 L413.55,231.11 L413.67,231.08 L413.79,231.05 L413.91,231.02 L414.02,230.99 L414.14,230.95 L414.26,230.92 L414.38,230.89 L414.50,230.86 L414.62,230.83 L414.74,230.84 L414.85,230.85 L414.97,230.86 L415.09,230.88 L415.21,230.89 L415.33,230.90 L415.44,230.91 L415.56,230.92 L415.68,230.93 L415.80,230.94 L415.92,230.93 L416.04,230.93 L416.16,230.92 L416.27,230.91 L416.39,230.90 L416.51,230.88 L416.63,230.86 L416.75,230.84 L416.86,230.80 L416.98,230.76 L417.10,230.69 L417.22,230.61 L417.34,230.52 L417.46,230.41 L417.58,230.29 L417.69,230.16 L417.81,230.00 L417.93,229.83 L418.05,229.64 L418.17,229.43 L418.28,229.22 L418.40,229.00 L418.52,228.75 L418.64,228.49 L418.76,228.21 L418.88,227.92 L419.00,227.61 L419.11,227.31 L419.23,227.00 L419.35,226.71 L419.47,226.39 L419.59,226.11 L419.70,225.86 L419.82,225.66 L419.94,225.52 L420.06,225.46 L420.18,225.49 L420.30,225.59 L420.42,225.76 L420.53,225.97 L420.65,226.24 L420.77,226.54 L420.89,226.85 L421.01,227.17 L421.12,227.49 L421.24,227.81 L421.36,228.12 L421.48,228.42 L421.60,228.70 L421.72,228.96 L421.83,229.21 L421.95,229.44 L422.07,229.66 L422.19,229.85 L422.31,230.02 L422.43,230.17 L422.55,230.30 L422.66,230.42 L422.78,230.52 L422.90,230.61 L423.02,230.68 L423.14,230.73 L423.25,230.77 L423.37,230.80 L423.49,230.83 L423.61,230.85 L423.73,230.86 L423.85,230.87 L423.97,230.87 L424.08,230.87 L424.20,230.86 L424.32,230.85 L424.44,230.83 L424.56,230.81 L424.67,230.79 L424.79,230.77 L424.91,230.74 L425.03,230.72 L425.15,230.69 L425.27,230.66 L425.39,230.65 L425.50,230.64 L425.62,230.63 L425.74,230.62 L425.86,230.61 L425.98,230.59 L426.09,230.57 L426.21,230.55 L426.33,230.53 L426.45,230.51 L426.57,230.46 L426.69,230.41 L426.81,230.36 L426.92,230.31 L427.04,230.25 L427.16,230.18 L427.28,230.11 L427.40,230.04 L427.51,229.96 L427.63,229.87 L427.75,229.77 L427.87,229.65 L427.99,229.51 L428.11,229.32 L428.23,229.09 L428.34,228.77 L428.46,228.33 L428.58,227.74 L428.70,226.94 L428.82,225.85 L428.93,224.41 L429.05,222.53 L429.17,220.13 L429.29,217.13 L429.41,213.48 L429.53,209.14 L429.65,204.08 L429.76,198.35 L429.88,192.01 L430.00,185.17 L430.12,178.01 L430.24,170.67 L430.35,163.35 L430.47,156.26 L430.59,149.60 L430.71,143.53 L430.83,138.22 L430.95,133.76 L431.07,130.23 L431.18,127.65 L431.30,125.97 L431.42,125.10 L431.54,124.87 L431.66,125.08 L431.77,125.93 L431.89,127.60 L432.01,130.18 L432.13,133.71 L432.25,138.17 L432.37,143.49 L432.49,149.55 L432.60,156.21 L432.72,163.30 L432.84,170.61 L432.96,177.94 L433.08,185.10 L433.19,191.90 L433.31,198.20 L433.43,203.89 L433.55,208.90 L433.67,213.23 L433.79,216.86 L433.91,219.83 L434.02,222.19 L434.14,224.02 L434.26,225.40 L434.38,226.40 L434.50,227.11 L434.61,227.57 L434.73,227.85 L434.85,227.92 L434.97,227.88 L435.09,227.73 L435.21,227.49 L435.33,227.18 L435.44,226.79 L435.56,226.32 L435.68,225.79 L435.80,225.20 L435.92,224.54 L436.03,223.87 L436.15,223.16 L436.27,222.42 L436.39,221.68 L436.51,220.97 L436.63,220.30 L436.75,219.72 L436.86,219.27 L436.98,218.97 L437.10,218.87 L437.22,219.04 L437.34,219.40 L437.45,219.93 L437.57,220.58 L437.69,221.32 L437.81,222.11 L437.93,222.92 L438.05,223.73 L438.17,224.52 L438.28,225.28 L438.40,225.96 L438.52,226.58 L438.64,227.15 L438.76,227.66 L438.88,228.11 L438.99,228.50 L439.11,228.83 L439.23,229.11 L439.35,229.35 L439.47,229.54 L439.58,229.74 L439.70,229.92 L439.82,230.06 L439.94,230.18 L440.06,230.28 L440.18,230.36 L440.30,230.43 L440.41,230.49 L440.53,230.54 L440.65,230.58 L440.77,230.60 L440.89,230.60 L441.00,230.61 L441.12,230.61 L441.24,230.60 L441.36,230.60 L441.48,230.59 L441.60,230.58 L441.72,230.57 L441.83,230.56 L441.95,230.56 L442.07,230.57 L442.19,230.58 L442.31,230.58 L442.42,230.59 L442.54,230.59 L442.66,230.59 L442.78,230.59 L442.90,230.58 L443.02,230.58 L443.14,230.55 L443.25,230.52 L443.37,230.49 L443.49,230.45 L443.61,230.41 L443.73,230.37 L443.84,230.33 L443.96,230.28 L444.08,230.23 L444.20,230.17 L444.32,230.12 L444.44,230.07 L444.56,229.99 L444.67,229.90 L444.79,229.78 L444.91,229.62 L445.03,229.39 L445.15,229.09 L445.26,228.66 L445.38,228.08 L445.50,227.29 L445.62,226.23 L445.74,224.85 L445.86,223.09 L445.98,220.89 L446.09,218.20 L446.21,214.99 L446.33,211.27 L446.45,207.04 L446.57,202.36 L446.68,197.30 L446.80,191.99 L446.92,186.55 L447.04,181.12 L447.16,175.86 L447.28,170.92 L447.40,166.42 L447.51,162.47 L447.63,159.17 L447.75,156.54 L447.87,154.63 L447.99,153.38 L448.10,152.75 L448.22,152.59 L448.34,152.75 L448.46,153.38 L448.58,154.63 L448.70,156.55 L448.82,159.17 L448.93,162.47 L449.05,166.17 L449.17,170.66 L449.29,175.60 L449.41,180.84 L449.52,186.26 L449.64,191.69 L449.76,196.99 L449.88,202.03 L450.00,206.71 L450.12,210.93 L450.24,214.67 L450.35,217.90 L450.47,220.61 L450.59,222.83 L450.71,224.61 L450.83,226.01 L450.94,227.08 L451.06,227.90 L451.18,228.51 L451.30,228.96 L451.42,229.27 L451.54,229.51 L451.66,229.68 L451.77,229.81 L451.89,229.91 L452.01,230.00 L452.13,230.07 L452.25,230.13 L452.36,230.19 L452.48,230.23 L452.60,230.29 L452.72,230.34 L452.84,230.39 L452.96,230.43 L453.08,230.48 L453.19,230.52 L453.31,230.56 L453.43,230.59 L453.55,230.63 L453.67,230.66 L453.78,230.68 L453.90,230.71 L454.02,230.73 L454.14,230.75 L454.26,230.76 L454.38,230.78 L454.50,230.80 L454.61,230.81 L454.73,230.83 L454.85,230.84 L454.97,230.87 L455.09,230.90 L455.20,230.92 L455.32,230.95 L455.56,231.00 L456.27,231.08 L456.98,231.02 L457.69,231.08 L458.40,231.19 L459.11,231.20 L459.82,231.21 L460.53,231.25 L461.24,231.23 L461.95,231.19 L462.66,231.23 L463.37,231.27 L464.08,231.31 L464.79,231.32 L465.50,231.33 L466.21,231.33 L466.92,231.33 L467.63,231.31 L468.34,231.32 L469.05,231.34 L469.76,231.31 L470.47,231.29 L471.18,231.28 L471.89,231.31 L472.60,231.36 L473.31,231.46 L474.02,231.48 L474.73,231.33 L475.44,231.27 L476.15,231.26 L476.86,231.38 L477.57,231.47 L478.28,231.47 L478.99,231.53 L479.70,231.61 L480.41,231.47 L481.12,231.41 L481.83,231.50 L482.54,231.44 L483.25,231.31 L483.96,231.52 L484.67,231.62 L485.38,231.49 L486.09,231.43 L486.80,231.41 L487.51,231.46 L488.22,231.50 L488.93,231.52 L489.64,231.50 L490.35,231.45 L491.06,231.49 L491.77,231.51 L492.48,231.50 L493.19,231.49 L493.90,231.47 L494.61,231.50 L495.32,231.51 L496.03,231.50 L496.74,231.46 L497.45,231.41 L498.16,231.47 L498.87,231.50 L499.58,231.47 L500.29,231.49 L501.00,231.54 L501.71,231.46 L502.42,231.44 L503.13,231.55 L503.84,231.51 L504.55,231.40 L505.26,231.59 L505.97,231.69 L506.68,231.59 L507.39,231.57 L508.10,231.61 L508.81,231.48 L509.52,231.41 L510.23,231.45 L510.94,231.51 L511.65,231.59 L512.36,231.55 L513.07,231.50 L513.78,231.40 L514.49,231.42 L515.20,231.49 L515.91,231.46 L516.62,231.47 L517.33,231.57 L518.04,231.60 L518.75,231.60 L519.46,231.50 L520.17,231.41 L520.88,231.32 L521.59,231.39 L522.30,231.53 L523.01,231.47 L523.72,231.46 L524.43,231.53 L525.14,231.49 L525.85,231.38 L526.56,231.46 L527.27,231.52 L527.98,231.52 L528.69,231.56 L529.40,231.63 L529.52,231.62 L529.64,231.61 L529.75,231.59 L529.87,231.58 L529.99,231.57 L530.11,231.56 L530.23,231.54 L530.35,231.53 L530.47,231.52 L530.58,231.51 L530.70,231.50 L530.82,231.50 L530.94,231.49 L531.06,231.49 L531.17,231.48 L531.29,231.48 L531.41,231.47 L531.53,231.46 L531.65,231.46 L531.77,231.45 L531.89,231.44 L532.00,231.43 L532.12,231.42 L532.24,231.41 L532.36,231.40 L532.48,231.39 L532.59,231.38 L532.71,231.37 L532.83,231.36 L532.95,231.34 L533.07,231.36 L533.19,231.38 L533.31,231.40 L533.42,231.42 L533.54,231.43 L533.66,231.45 L533.78,231.47 L533.90,231.48 L534.01,231.50 L534.13,231.51 L534.25,231.48 L534.37,231.44 L534.49,231.40 L534.61,231.35 L534.73,231.28 L534.84,231.20 L534.96,231.10 L535.08,230.97 L535.20,230.82 L535.32,230.64 L535.43,230.45 L535.55,230.24 L535.67,230.01 L535.79,229.76 L535.91,229.50 L536.03,229.26 L536.15,229.05 L536.26,228.88 L536.38,228.78 L536.50,228.75 L536.62,228.79 L536.74,228.90 L536.85,229.08 L536.97,229.30 L537.09,229.56 L537.21,229.82 L537.33,230.08 L537.45,230.32 L537.57,230.54 L537.68,230.74 L537.80,230.91 L537.92,231.05 L538.04,231.16 L538.16,231.25 L538.27,231.32 L538.39,231.38 L538.51,231.42 L538.63,231.45 L538.75,231.47 L538.87,231.49 L538.99,231.50 L539.10,231.52 L539.22,231.53 L539.34,231.54 L539.46,231.55 L539.58,231.56 L539.69,231.57 L539.81,231.58 L539.93,231.58 L540.05,231.59 L540.17,231.59 L540.29,231.59 L540.41,231.59 L540.52,231.58 L540.64,231.58 L540.76,231.58 L540.88,231.57 L541.00,231.57 L541.11,231.57 L541.23,231.57 L541.35,231.54 L541.47,231.52 L541.59,231.50 L541.71,231.48 L541.83,231.45 L541.94,231.43 L542.06,231.41 L542.18,231.39 L542.30,231.36 L542.42,231.34 L542.53,231.36 L542.65,231.39 L542.77,231.41 L542.89,231.43 L543.01,231.46 L543.13,231.48 L543.25,231.50 L543.36,231.53 L543.48,231.55 L543.60,231.57 L544.31,231.54 L545.02,231.49 L545.73,231.41 L546.44,231.49 L547.15,231.65 L547.86,231.52 L548.57,231.46 L549.28,231.50 L549.99,231.49 L550.70,231.46 L551.41,231.42 L552.12,231.42 L552.83,231.46 L553.54,231.48 L554.25,231.48 L554.96,231.43 L555.67,231.40 L556.38,231.39 L557.09,231.43 L557.80,231.49 L558.04,231.47 L558.16,231.47 L558.27,231.46 L558.39,231.45 L558.51,231.45 L558.63,231.44 L558.75,231.43 L558.86,231.43 L558.98,231.42 L559.10,231.42 L559.22,231.43 L559.34,231.44 L559.46,231.44 L559.58,231.45 L559.69,231.45 L559.81,231.45 L559.93,231.46 L560.05,231.46 L560.17,231.47 L560.28,231.44 L560.40,231.41 L560.52,231.38 L560.64,231.35 L560.76,231.32 L560.88,231.29 L561.00,231.26 L561.11,231.22 L561.23,231.19 L561.35,231.15 L561.47,231.15 L561.59,231.15 L561.70,231.14 L561.82,231.13 L561.94,231.12 L562.06,231.10 L562.18,231.07 L562.30,231.03 L562.42,230.98 L562.53,230.92 L562.65,230.81 L562.77,230.68 L562.89,230.52 L563.01,230.33 L563.12,230.11 L563.24,229.85 L563.36,229.55 L563.48,229.19 L563.60,228.76 L563.72,228.27 L563.83,227.70 L563.95,227.04 L564.07,226.30 L564.19,225.45 L564.31,224.51 L564.43,223.48 L564.55,222.38 L564.66,221.24 L564.78,220.13 L564.90,219.11 L565.02,218.34 L565.14,217.95 L565.25,218.36 L565.37,219.14 L565.49,220.15 L565.61,221.27 L565.73,222.40 L565.85,223.49 L565.97,224.52 L566.08,225.45 L566.20,226.29 L566.32,227.04 L566.44,227.69 L566.56,228.26 L566.67,228.75 L566.79,229.17 L566.91,229.52 L567.03,229.83 L567.15,230.09 L567.27,230.30 L567.39,230.48 L567.50,230.63 L567.62,230.76 L567.74,230.86 L567.86,230.95 L567.98,231.02 L568.09,231.08 L568.21,231.13 L568.33,231.18 L568.45,231.22 L568.57,231.24 L568.69,231.27 L568.81,231.29 L568.92,231.31 L569.04,231.32 L569.16,231.34 L569.28,231.35 L569.40,231.36 L569.51,231.37 L569.63,231.38 L569.75,231.37 L569.87,231.37 L569.99,231.36 L570.11,231.36 L570.23,231.35 L570.34,231.34 L570.46,231.34 L570.58,231.33 L570.70,231.32 L570.82,231.31 L570.93,231.32 L571.05,231.33 L571.17,231.34 L571.29,231.35 L571.41,231.36 L571.53,231.36 L571.65,231.37 L571.76,231.38 L571.88,231.39 L572.00,231.39 L572.12,231.40 L572.24,231.40 L572.71,231.42 L573.42,231.40 L574.13,231.28 L574.84,231.36 L575.55,231.53 L576.26,231.51 L576.97,231.50 L577.68,231.50 L578.39,231.48 L579.10,231.45 L579.81,231.45 L580.52,231.46 L581.23,231.49 L581.94,231.47 L582.65,231.42 L583.36,231.43 L584.07,231.45 L584.78,231.49 L585.49,231.57 L586.20,231.68 L586.32,231.65 L586.44,231.62 L586.56,231.60 L586.67,231.57 L586.79,231.55 L586.91,231.52 L587.03,231.49 L587.15,231.47 L587.26,231.44 L587.38,231.41 L587.50,231.43 L587.62,231.44 L587.74,231.46 L587.86,231.47 L587.98,231.48 L588.09,231.50 L588.21,231.51 L588.33,231.53 L588.45,231.54 L588.57,231.55 L588.68,231.55 L588.80,231.55 L588.92,231.54 L589.04,231.54 L589.16,231.54 L589.28,231.54 L589.40,231.53 L589.51,231.53 L589.63,231.53 L589.75,231.52 L589.87,231.52 L589.99,231.51 L590.10,231.51 L590.22,231.50 L590.34,231.50 L590.46,231.49 L590.58,231.49 L590.70,231.48 L590.82,231.47 L590.93,231.47 L591.05,231.47 L591.17,231.47 L591.29,231.47 L591.41,231.46 L591.52,231.45 L591.64,231.43 L591.76,231.41 L591.88,231.37 L592.00,231.32 L592.12,231.27 L592.24,231.18 L592.35,231.08 L592.47,230.98 L592.59,230.87 L592.71,230.76 L592.83,230.65 L592.94,230.55 L593.06,230.47 L593.18,230.42 L593.30,230.40 L593.42,230.41 L593.54,230.45 L593.66,230.52 L593.77,230.61 L593.89,230.70 L594.01,230.81 L594.13,230.91 L594.25,231.00 L594.36,231.09 L594.48,231.16 L594.60,231.23 L594.72,231.29 L594.84,231.34 L594.96,231.38 L595.08,231.41 L595.19,231.43 L595.31,231.45 L595.43,231.46 L595.55,231.47 L595.67,231.48 L595.78,231.48 L595.90,231.48 L596.02,231.48 L596.14,231.47 L596.26,231.47 L596.38,231.47 L596.50,231.46 L596.61,231.46 L596.73,231.45 L596.85,231.45 L596.97,231.46 L597.09,231.47 L597.20,231.48 L597.32,231.49 L597.44,231.50 L597.56,231.51 L597.68,231.52 L597.80,231.53 L597.92,231.54 L598.03,231.55 L598.15,231.54 L598.27,231.54 L598.39,231.53 L598.51,231.53 L598.62,231.52 L598.74,231.52 L598.86,231.51 L598.98,231.51 L599.10,231.51 L599.22,231.50 L599.33,231.51 L599.45,231.51 L599.57,231.52 L599.69,231.53 L599.81,231.53 L599.93,231.54 L600.05,231.55 L600.16,231.55 L600.28,231.56 L600.40,231.57 L601.11,231.53 L601.82,231.50 L602.53,231.47 L602.77,231.46 L602.89,231.46 L603.00,231.47 L603.12,231.47 L603.24,231.48 L603.36,231.48 L603.48,231.48 L603.59,231.49 L603.71,231.49 L603.83,231.50 L603.95,231.50 L604.07,231.51 L604.19,231.52 L604.31,231.53 L604.42,231.54 L604.54,231.55 L604.66,231.56 L604.78,231.57 L604.90,231.57 L605.01,231.58 L605.13,231.59 L605.25,231.58 L605.37,231.57 L605.49,231.56 L605.61,231.55 L605.73,231.54 L605.84,231.53 L605.96,231.52 L606.08,231.51 L606.20,231.50 L606.32,231.49 L606.43,231.48 L606.55,231.48 L606.67,231.48 L606.79,231.47 L606.91,231.47 L607.03,231.46 L607.15,231.46 L607.26,231.45 L607.38,231.45 L607.50,231.44 L607.62,231.43 L607.74,231.41 L607.85,231.39 L607.97,231.37 L608.09,231.34 L608.21,231.31 L608.33,231.27 L608.45,231.21 L608.57,231.15 L608.68,231.07 L608.80,231.00 L608.92,230.92 L609.04,230.83 L609.16,230.73 L609.27,230.63 L609.39,230.54 L609.51,230.45 L609.63,230.39 L609.75,230.35 L609.87,230.34 L609.99,230.36 L610.10,230.41 L610.22,230.49 L610.34,230.58 L610.46,230.69 L610.58,230.80 L610.69,230.91 L610.81,231.02 L610.93,231.11 L611.05,231.19 L611.17,231.27 L611.29,231.33 L611.41,231.38 L611.52,231.42 L611.64,231.45 L611.76,231.48 L611.88,231.50 L612.00,231.52 L612.11,231.53 L612.23,231.54 L612.35,231.52 L612.47,231.50 L612.59,231.47 L612.71,231.45 L612.83,231.43 L612.94,231.40 L613.06,231.38 L613.18,231.35 L613.30,231.33 L613.42,231.30 L613.53,231.33 L613.65,231.35 L613.77,231.38 L613.89,231.40 L614.01,231.42 L614.13,231.45 L614.25,231.47 L614.36,231.50 L614.48,231.52 L614.60,231.54 L614.72,231.54 L614.84,231.55 L614.95,231.55 L615.07,231.55 L615.19,231.55 L615.31,231.55 L615.43,231.55 L615.55,231.55 L615.67,231.56 L615.78,231.56 L615.90,231.55 L616.02,231.54 L616.14,231.53 L616.26,231.52 L616.38,231.52 L616.49,231.51 L616.61,231.50 L616.73,231.49 L616.85,231.48 L616.97,231.48 L617.44,231.53 L618.15,231.61 L618.86,231.47 L619.57,231.38 L620.28,231.42 L620.99,231.42 L621.70,231.40 L622.41,231.47 L623.12,231.50 L623.83,231.47 L624.54,231.41 L625.25,231.33 L625.96,231.32 L626.67,231.27 L627.38,231.15 L628.09,231.15 L628.68,231.19 L628.80,231.20 L628.92,231.21 L629.04,231.23 L629.16,231.24 L629.27,231.26 L629.39,231.28 L629.51,231.29 L629.63,231.30 L629.75,231.32 L629.86,231.33 L629.98,231.34 L630.10,231.31 L630.22,231.28 L630.34,231.25 L630.46,231.22 L630.58,231.19 L630.69,231.15 L630.81,231.11 L630.93,231.07 L631.05,231.03 L631.17,230.99 L631.28,230.96 L631.40,230.92 L631.52,230.88 L631.64,230.84 L631.76,230.79 L631.88,230.73 L632.00,230.66 L632.11,230.58 L632.23,230.48 L632.35,230.37 L632.47,230.22 L632.59,230.05 L632.70,229.85 L632.82,229.62 L632.94,229.35 L633.06,229.04 L633.18,228.68 L633.30,228.26 L633.42,227.77 L633.53,227.21 L633.65,226.58 L633.77,225.86 L633.89,225.03 L634.01,224.09 L634.12,223.01 L634.24,221.79 L634.36,220.42 L634.48,218.90 L634.60,217.20 L634.72,215.35 L634.83,213.31 L634.95,211.14 L635.07,208.85 L635.19,206.49 L635.31,204.16 L635.43,201.95 L635.55,200.00 L635.66,198.49 L635.78,197.72 L635.90,198.48 L636.02,199.99 L636.14,201.94 L636.25,204.15 L636.37,206.49 L636.49,208.85 L636.61,211.14 L636.73,213.32 L636.85,215.35 L636.97,217.23 L637.08,218.93 L637.20,220.46 L637.32,221.83 L637.44,223.05 L637.56,224.13 L637.67,225.08 L637.79,225.91 L637.91,226.64 L638.03,227.26 L638.15,227.81 L638.27,228.27 L638.39,228.67 L638.50,229.02 L638.62,229.31 L638.74,229.56 L638.86,229.77 L638.98,229.95 L639.09,230.10 L639.21,230.23 L639.33,230.34 L639.45,230.44 L639.57,230.54 L639.69,230.63 L639.81,230.71 L639.92,230.78 L640.04,230.85 L640.16,230.90 L640.28,230.96 L640.40,231.01 L640.51,231.05 L640.63,231.10 L640.75,231.13 L640.87,231.17 L640.99,231.20 L641.11,231.23 L641.23,231.25 L641.34,231.28 L641.46,231.31 L641.58,231.33 L641.70,231.35 L641.82,231.38 L641.93,231.38 L642.05,231.38 L642.17,231.38 L642.29,231.38 L642.41,231.38 L642.53,231.38 L642.65,231.38 L642.76,231.38 L642.88,231.38 L643.00,231.38 L643.71,231.29 L644.42,231.25 L645.13,231.34 L645.84,231.39 L646.55,231.43 L647.26,231.47 L647.97,231.47 L648.68,231.38 L649.39,231.38 L650.10,231.42 L650.81,231.45 L651.52,231.47 L652.23,231.49 L652.94,231.49 L653.65,231.48 L654.36,231.49 L655.07,231.48 L655.78,231.44 L656.49,231.40 L657.20,231.37 L657.91,231.53 L658.62,231.63 L659.33,231.60 L660.04,231.55 L660.75,231.49 L661.46,231.48 L662.17,231.50 L662.88,231.58 L663.59,231.58 L664.30,231.53 L665.01,231.52 L665.72,231.52 L666.43,231.52 L667.14,231.52 L667.85,231.52 L668.56,231.51 L669.27,231.48 L669.98,231.43 L670.69,231.42 L671.40,231.43 L672.11,231.44 L672.82,231.45 L673.53,231.46 L674.24,231.50 L674.95,231.55 L675.66,231.54 L676.37,231.51 L677.08,231.45 L677.79,231.45 L678.50,231.48" stroke="#ff2a2a" stroke-width="0.5" stroke-dasharray="3.3 1.0"/>
<path d="M394.50,231.47 L395.21,231.48 L395.92,231.48 L396.63,231.47 L397.34,231.51 L398.05,231.59 L398.76,231.54 L399.47,231.51 L400.18,231.52 L400.89,231.49 L401.60,231.43 L402.31,231.49 L403.02,231.52 L403.73,231.48 L404.44,231.49 L405.15,231.51 L405.86,231.48 L406.57,231.45 L407.28,231.44 L407.99,231.46 L408.70,231.50 L409.41,231.48 L410.12,231.47 L410.83,231.47 L411.54,231.45 L412.25,231.43 L412.84,231.46 L412.96,231.47 L413.08,231.47 L413.20,231.48 L413.32,231.49 L413.43,231.50 L413.55,231.49 L413.67,231.49 L413.79,231.49 L413.91,231.48 L414.02,231.48 L414.14,231.48 L414.26,231.48 L414.38,231.47 L414.50,231.47 L414.62,231.47 L414.74,231.47 L414.85,231.47 L414.97,231.47 L415.09,231.48 L415.21,231.48 L415.33,231.48 L415.44,231.48 L415.56,231.48 L415.68,231.48 L415.80,231.48 L415.92,231.48 L416.04,231.49 L416.16,231.48 L416.27,231.48 L416.39,231.48 L416.51,231.48 L416.63,231.47 L416.75,231.46 L416.86,231.46 L416.98,231.44 L417.10,231.42 L417.22,231.39 L417.34,231.35 L417.46,231.31 L417.58,231.27 L417.69,231.22 L417.81,231.16 L417.93,231.09 L418.05,231.02 L418.17,230.93 L418.28,230.85 L418.40,230.75 L418.52,230.65 L418.64,230.54 L418.76,230.41 L418.88,230.29 L419.00,230.16 L419.11,230.02 L419.23,229.89 L419.35,229.75 L419.47,229.64 L419.59,229.54 L419.70,229.46 L419.82,229.40 L419.94,229.38 L420.06,229.42 L420.18,229.49 L420.30,229.58 L420.42,229.70 L420.53,229.83 L420.65,229.94 L420.77,230.05 L420.89,230.17 L421.01,230.28 L421.12,230.39 L421.24,230.50 L421.36,230.59 L421.48,230.68 L421.60,230.75 L421.72,230.82 L421.83,230.91 L421.95,230.99 L422.07,231.06 L422.19,231.13 L422.31,231.18 L422.43,231.23 L422.55,231.28 L422.66,231.32 L422.78,231.35 L422.90,231.39 L423.02,231.39 L423.14,231.39 L423.25,231.39 L423.37,231.39 L423.49,231.38 L423.61,231.37 L423.73,231.37 L423.85,231.36 L423.97,231.35 L424.08,231.34 L424.20,231.34 L424.32,231.34 L424.44,231.34 L424.56,231.34 L424.67,231.34 L424.79,231.34 L424.91,231.34 L425.03,231.34 L425.15,231.34 L425.27,231.33 L425.39,231.34 L425.50,231.35 L425.62,231.36 L425.74,231.37 L425.86,231.37 L425.98,231.38 L426.09,231.38 L426.21,231.39 L426.33,231.39 L426.45,231.39 L426.57,231.36 L426.69,231.33 L426.81,231.30 L426.92,231.26 L427.04,231.22 L427.16,231.17 L427.28,231.11 L427.40,231.04 L427.51,230.95 L427.63,230.85 L427.75,230.75 L427.87,230.62 L427.99,230.47 L428.11,230.28 L428.23,230.05 L428.34,229.77 L428.46,229.43 L428.58,229.03 L428.70,228.55 L428.82,227.98 L428.93,227.30 L429.05,226.51 L429.17,225.60 L429.29,224.56 L429.41,223.38 L429.53,222.06 L429.65,220.59 L429.76,218.96 L429.88,217.17 L430.00,215.24 L430.12,213.17 L430.24,210.99 L430.35,208.70 L430.47,206.35 L430.59,203.98 L430.71,201.62 L430.83,199.36 L430.95,197.25 L431.07,195.37 L431.18,193.82 L431.30,192.71 L431.42,192.21 L431.54,192.70 L431.66,193.79 L431.77,195.32 L431.89,197.19 L432.01,199.28 L432.13,201.54 L432.25,203.87 L432.37,206.23 L432.49,208.58 L432.60,210.87 L432.72,213.06 L432.84,215.12 L432.96,217.05 L433.08,218.83 L433.19,220.45 L433.31,221.92 L433.43,223.23 L433.55,224.40 L433.67,225.43 L433.79,226.34 L433.91,227.12 L434.02,227.79 L434.14,228.35 L434.26,228.83 L434.38,229.22 L434.50,229.53 L434.61,229.78 L434.73,229.96 L434.85,230.06 L434.97,230.11 L435.09,230.10 L435.21,230.04 L435.33,229.94 L435.44,229.78 L435.56,229.58 L435.68,229.33 L435.80,229.04 L435.92,228.72 L436.03,228.35 L436.15,227.96 L436.27,227.55 L436.39,227.14 L436.51,226.75 L436.63,226.38 L436.75,226.07 L436.86,225.84 L436.98,225.74 L437.10,225.83 L437.22,226.07 L437.34,226.39 L437.45,226.77 L437.57,227.18 L437.69,227.61 L437.81,228.03 L437.93,228.44 L438.05,228.84 L438.17,229.20 L438.28,229.53 L438.40,229.81 L438.52,230.06 L438.64,230.27 L438.76,230.45 L438.88,230.60 L438.99,230.73 L439.11,230.83 L439.23,230.91 L439.35,230.98 L439.47,231.03 L439.58,231.09 L439.70,231.14 L439.82,231.19 L439.94,231.23 L440.06,231.26 L440.18,231.29 L440.30,231.32 L440.41,231.35 L440.53,231.37 L440.65,231.39 L440.77,231.39 L440.89,231.39 L441.00,231.39 L441.12,231.39 L441.24,231.39 L441.36,231.39 L441.48,231.39 L441.60,231.39 L441.72,231.38 L441.83,231.38 L441.95,231.39 L442.07,231.39 L442.19,231.39 L442.31,231.39 L442.42,231.40 L442.54,231.40 L442.66,231.40 L442.78,231.40 L442.90,231.39 L443.02,231.39 L443.14,231.38 L443.25,231.36 L443.37,231.34 L443.49,231.32 L443.61,231.29 L443.73,231.26 L443.84,231.22 L443.96,231.18 L444.08,231.13 L444.20,231.06 L444.32,230.98 L444.44,230.89 L444.56,230.77 L444.67,230.64 L444.79,230.47 L444.91,230.27 L445.03,230.04 L445.15,229.76 L445.26,229.42 L445.38,229.03 L445.50,228.60 L445.62,228.09 L445.74,227.50 L445.86,226.81 L445.98,226.03 L446.09,225.14 L446.21,224.13 L446.33,223.00 L446.45,221.76 L446.57,220.39 L446.68,218.89 L446.80,217.27 L446.92,215.56 L447.04,213.78 L447.16,211.94 L447.28,210.09 L447.40,208.25 L447.51,206.48 L447.63,204.83 L447.75,203.37 L447.87,202.17 L447.99,201.31 L448.10,200.93 L448.22,201.32 L448.34,202.18 L448.46,203.38 L448.58,204.84 L448.70,206.48 L448.82,208.24 L448.93,210.07 L449.05,211.91 L449.17,213.74 L449.29,215.51 L449.41,217.20 L449.52,218.80 L449.64,220.30 L449.76,221.68 L449.88,222.93 L450.00,224.07 L450.12,225.09 L450.24,226.01 L450.35,226.81 L450.47,227.52 L450.59,228.13 L450.71,228.66 L450.83,229.12 L450.94,229.51 L451.06,229.84 L451.18,230.11 L451.30,230.35 L451.42,230.53 L451.54,230.69 L451.66,230.81 L451.77,230.92 L451.89,231.00 L452.01,231.07 L452.13,231.12 L452.25,231.17 L452.36,231.21 L452.48,231.24 L452.60,231.25 L452.72,231.26 L452.84,231.26 L452.96,231.26 L453.08,231.26 L453.19,231.26 L453.31,231.25 L453.43,231.25 L453.55,231.24 L453.67,231.23 L453.78,231.26 L453.90,231.29 L454.02,231.31 L454.14,231.34 L454.26,231.36 L454.38,231.39 L454.50,231.42 L454.61,231.44 L454.73,231.47 L454.85,231.49 L454.97,231.48 L455.09,231.47 L455.20,231.46 L455.56,231.43 L456.27,231.38 L456.98,231.36 L457.69,231.38 L458.40,231.43 L459.11,231.39 L459.82,231.42 L460.53,231.60 L461.24,231.59 L461.95,231.49 L462.66,231.53 L463.37,231.54 L464.08,231.52 L464.79,231.50 L465.50,231.49 L466.21,231.47 L466.92,231.47 L467.63,231.52 L468.34,231.50 L469.05,231.43 L469.76,231.53 L470.47,231.56 L471.18,231.46 L471.89,231.46 L472.60,231.51 L473.31,231.57 L474.02,231.61 L474.73,231.61 L475.44,231.61 L476.15,231.61 L476.86,231.58 L477.57,231.54 L478.28,231.50 L478.99,231.46 L479.70,231.41 L480.41,231.43 L481.12,231.47 L481.83,231.55 L482.54,231.61 L483.25,231.64 L483.96,231.57 L484.67,231.53 L485.38,231.57 L486.09,231.56 L486.80,231.51 L487.51,231.53 L488.22,231.50 L488.93,231.37 L489.64,231.44 L490.35,231.61 L491.06,231.53 L491.77,231.46 L492.48,231.40 L493.19,231.44 L493.90,231.53 L494.61,231.54 L495.32,231.52 L496.03,231.42 L496.74,231.49 L497.45,231.64 L498.16,231.62 L498.87,231.60 L499.58,231.59 L500.29,231.54 L501.00,231.47 L501.71,231.46 L502.42,231.46 L503.13,231.50 L503.84,231.45 L504.55,231.36 L505.26,231.45 L505.97,231.51 L506.68,231.50 L507.39,231.51 L508.10,231.52 L508.81,231.46 L509.52,231.44 L510.23,231.48 L510.94,231.51 L511.65,231.53 L512.36,231.44 L513.07,231.40 L513.78,231.41 L514.49,231.42 L515.20,231.43 L515.91,231.52 L516.62,231.58 L517.33,231.57 L518.04,231.55 L518.75,231.51 L519.46,231.51 L520.17,231.52 L520.88,231.52 L521.59,231.52 L522.30,231.51 L523.01,231.48 L523.72,231.48 L524.43,231.54 L525.14,231.53 L525.85,231.48 L526.56,231.51 L527.27,231.52 L527.98,231.53 L528.69,231.52 L529.28,231.52 L529.40,231.51 L529.52,231.51 L529.64,231.50 L529.75,231.49 L529.87,231.49 L529.99,231.48 L530.11,231.47 L530.23,231.47 L530.35,231.46 L530.47,231.45 L530.58,231.45 L530.70,231.45 L530.82,231.45 L530.94,231.46 L531.06,231.46 L531.17,231.46 L531.29,231.47 L531.41,231.47 L531.53,231.47 L531.65,231.47 L531.77,231.48 L531.89,231.48 L532.00,231.49 L532.12,231.50 L532.24,231.50 L532.36,231.51 L532.48,231.52 L532.59,231.52 L532.71,231.53 L532.83,231.54 L532.95,231.54 L533.07,231.54 L533.19,231.53 L533.31,231.52 L533.42,231.51 L533.54,231.51 L533.66,231.50 L533.78,231.49 L533.90,231.48 L534.01,231.47 L534.13,231.46 L534.25,231.46 L534.37,231.45 L534.49,231.44 L534.61,231.43 L534.73,231.42 L534.84,231.40 L534.96,231.38 L535.08,231.34 L535.20,231.30 L535.32,231.25 L535.43,231.19 L535.55,231.12 L535.67,231.04 L535.79,230.96 L535.91,230.87 L536.03,230.79 L536.15,230.72 L536.26,230.66 L536.38,230.63 L536.50,230.66 L536.62,230.72 L536.74,230.79 L536.85,230.88 L536.97,230.97 L537.09,231.05 L537.21,231.13 L537.33,231.21 L537.45,231.27 L537.57,231.33 L537.68,231.37 L537.80,231.40 L537.92,231.41 L538.04,231.43 L538.16,231.43 L538.27,231.44 L538.39,231.44 L538.51,231.44 L538.63,231.43 L538.75,231.43 L538.87,231.42 L538.99,231.43 L539.10,231.43 L539.22,231.44 L539.34,231.44 L539.46,231.45 L539.58,231.45 L539.69,231.45 L539.81,231.46 L539.93,231.46 L540.05,231.47 L540.17,231.48 L540.29,231.49 L540.41,231.50 L540.52,231.51 L540.64,231.52 L540.76,231.53 L540.88,231.54 L541.00,231.55 L541.11,231.56 L541.23,231.57 L541.35,231.57 L541.47,231.57 L541.59,231.57 L541.71,231.57 L541.83,231.57 L541.94,231.57 L542.06,231.57 L542.18,231.57 L542.30,231.58 L542.42,231.58 L542.53,231.58 L542.65,231.58 L542.77,231.58 L542.89,231.58 L543.01,231.58 L543.13,231.58 L543.25,231.58 L543.36,231.58 L543.48,231.58 L543.60,231.58 L544.31,231.51 L545.02,231.48 L545.73,231.52 L546.44,231.53 L547.15,231.52 L547.86,231.50 L548.57,231.48 L549.28,231.43 L549.99,231.39 L550.70,231.35 L551.41,231.44 L552.12,231.47 L552.83,231.39 L553.54,231.40 L554.25,231.46 L554.96,231.43 L555.67,231.43 L556.38,231.49 L557.09,231.53 L557.80,231.57 L557.92,231.56 L558.04,231.55 L558.16,231.53 L558.27,231.52 L558.39,231.51 L558.51,231.50 L558.63,231.49 L558.75,231.48 L558.86,231.47 L558.98,231.45 L559.10,231.45 L559.22,231.44 L559.34,231.44 L559.46,231.43 L559.58,231.43 L559.69,231.42 L559.81,231.42 L559.93,231.41 L560.05,231.40 L560.17,231.40 L560.28,231.42 L560.40,231.43 L560.52,231.45 L560.64,231.47 L560.76,231.49 L560.88,231.51 L561.00,231.52 L561.11,231.54 L561.23,231.56 L561.35,231.57 L561.47,231.56 L561.59,231.55 L561.70,231.54 L561.82,231.52 L561.94,231.51 L562.06,231.49 L562.18,231.47 L562.30,231.45 L562.42,231.42 L562.53,231.39 L562.65,231.36 L562.77,231.32 L562.89,231.27 L563.01,231.20 L563.12,231.12 L563.24,231.02 L563.36,230.90 L563.48,230.75 L563.60,230.56 L563.72,230.34 L563.83,230.07 L563.95,229.75 L564.07,229.39 L564.19,228.98 L564.31,228.51 L564.43,228.01 L564.55,227.48 L564.66,226.95 L564.78,226.44 L564.90,226.02 L565.02,225.79 L565.14,226.04 L565.25,226.47 L565.37,226.98 L565.49,227.53 L565.61,228.07 L565.73,228.58 L565.85,229.05 L565.97,229.47 L566.08,229.84 L566.20,230.15 L566.32,230.41 L566.44,230.63 L566.56,230.81 L566.67,230.96 L566.79,231.08 L566.91,231.18 L567.03,231.25 L567.15,231.31 L567.27,231.35 L567.39,231.38 L567.50,231.40 L567.62,231.41 L567.74,231.42 L567.86,231.42 L567.98,231.42 L568.09,231.42 L568.21,231.42 L568.33,231.41 L568.45,231.41 L568.57,231.40 L568.69,231.40 L568.81,231.40 L568.92,231.39 L569.04,231.39 L569.16,231.38 L569.28,231.38 L569.40,231.37 L569.51,231.37 L569.63,231.36 L569.75,231.38 L569.87,231.39 L569.99,231.40 L570.11,231.41 L570.23,231.42 L570.34,231.43 L570.46,231.44 L570.58,231.46 L570.70,231.47 L570.82,231.48 L570.93,231.47 L571.05,231.47 L571.17,231.46 L571.29,231.46 L571.41,231.45 L571.53,231.45 L571.65,231.44 L571.76,231.44 L571.88,231.43 L572.00,231.42 L572.12,231.43 L572.71,231.46 L573.42,231.47 L574.13,231.47 L574.84,231.48 L575.55,231.52 L576.26,231.51 L576.97,231.51 L577.68,231.52 L578.39,231.51 L579.10,231.48 L579.81,231.45 L580.52,231.43 L581.23,231.47 L581.94,231.47 L582.65,231.45 L583.36,231.50 L584.07,231.52 L584.78,231.46 L585.49,231.55 L586.08,231.67 L586.20,231.70 L586.32,231.68 L586.44,231.67 L586.56,231.66 L586.67,231.65 L586.79,231.64 L586.91,231.63 L587.03,231.62 L587.15,231.61 L587.26,231.59 L587.38,231.58 L587.50,231.58 L587.62,231.57 L587.74,231.56 L587.86,231.55 L587.98,231.55 L588.09,231.54 L588.21,231.53 L588.33,231.53 L588.45,231.52 L588.57,231.51 L588.68,231.52 L588.80,231.53 L588.92,231.54 L589.04,231.55 L589.16,231.56 L589.28,231.57 L589.40,231.58 L589.51,231.59 L589.63,231.60 L589.75,231.61 L589.87,231.59 L589.99,231.57 L590.10,231.56 L590.22,231.54 L590.34,231.52 L590.46,231.51 L590.58,231.49 L590.70,231.47 L590.82,231.45 L590.93,231.43 L591.05,231.42 L591.17,231.42 L591.29,231.40 L591.41,231.38 L591.52,231.36 L591.64,231.33 L591.76,231.28 L591.88,231.22 L592.00,231.15 L592.12,231.07 L592.24,230.97 L592.35,230.85 L592.47,230.73 L592.59,230.59 L592.71,230.45 L592.83,230.31 L592.94,230.19 L593.06,230.10 L593.18,230.06 L593.30,230.11 L593.42,230.20 L593.54,230.33 L593.66,230.46 L593.77,230.61 L593.89,230.74 L594.01,230.87 L594.13,230.99 L594.25,231.09 L594.36,231.17 L594.48,231.24 L594.60,231.31 L594.72,231.36 L594.84,231.41 L594.96,231.45 L595.08,231.48 L595.19,231.50 L595.31,231.53 L595.43,231.54 L595.55,231.56 L595.67,231.58 L595.78,231.57 L595.90,231.57 L596.02,231.57 L596.14,231.57 L596.26,231.56 L596.38,231.56 L596.50,231.56 L596.61,231.55 L596.73,231.55 L596.85,231.55 L596.97,231.54 L597.09,231.54 L597.20,231.54 L597.32,231.53 L597.44,231.53 L597.56,231.53 L597.68,231.52 L597.80,231.52 L597.92,231.52 L598.03,231.51 L598.15,231.52 L598.27,231.53 L598.39,231.54 L598.51,231.55 L598.62,231.55 L598.74,231.56 L598.86,231.57 L598.98,231.58 L599.10,231.59 L599.22,231.59 L599.33,231.58 L599.45,231.56 L599.57,231.54 L599.69,231.53 L599.81,231.51 L599.93,231.49 L600.05,231.47 L600.16,231.46 L600.28,231.44 L600.40,231.42 L601.11,231.49 L601.82,231.51 L602.53,231.45 L602.65,231.44 L602.77,231.43 L602.89,231.43 L603.00,231.44 L603.12,231.45 L603.24,231.46 L603.36,231.46 L603.48,231.47 L603.59,231.48 L603.71,231.49 L603.83,231.49 L603.95,231.50 L604.07,231.50 L604.19,231.49 L604.31,231.49 L604.42,231.49 L604.54,231.49 L604.66,231.48 L604.78,231.48 L604.90,231.48 L605.01,231.47 L605.13,231.47 L605.25,231.48 L605.37,231.49 L605.49,231.49 L605.61,231.50 L605.73,231.51 L605.84,231.52 L605.96,231.53 L606.08,231.53 L606.20,231.54 L606.32,231.55 L606.43,231.54 L606.55,231.54 L606.67,231.54 L606.79,231.53 L606.91,231.53 L607.03,231.52 L607.15,231.52 L607.26,231.51 L607.38,231.51 L607.50,231.50 L607.62,231.50 L607.74,231.50 L607.85,231.49 L607.97,231.49 L608.09,231.48 L608.21,231.47 L608.33,231.45 L608.45,231.43 L608.57,231.41 L608.68,231.38 L608.80,231.33 L608.92,231.29 L609.04,231.24 L609.16,231.18 L609.27,231.13 L609.39,231.07 L609.51,231.02 L609.63,230.99 L609.75,230.97 L609.87,230.98 L609.99,231.00 L610.10,231.04 L610.22,231.08 L610.34,231.13 L610.46,231.17 L610.58,231.21 L610.69,231.24 L610.81,231.27 L610.93,231.30 L611.05,231.32 L611.17,231.35 L611.29,231.38 L611.41,231.40 L611.52,231.42 L611.64,231.44 L611.76,231.46 L611.88,231.48 L612.00,231.49 L612.11,231.51 L612.23,231.52 L612.35,231.52 L612.47,231.52 L612.59,231.52 L612.71,231.51 L612.83,231.51 L612.94,231.51 L613.06,231.51 L613.18,231.50 L613.30,231.50 L613.42,231.50 L613.53,231.50 L613.65,231.49 L613.77,231.49 L613.89,231.49 L614.01,231.48 L614.13,231.48 L614.25,231.48 L614.36,231.47 L614.48,231.47 L614.60,231.47 L614.72,231.46 L614.84,231.46 L614.95,231.46 L615.07,231.45 L615.19,231.45 L615.31,231.45 L615.43,231.44 L615.55,231.44 L615.67,231.44 L615.78,231.43 L615.90,231.44 L616.02,231.45 L616.14,231.45 L616.26,231.46 L616.38,231.47 L616.49,231.47 L616.61,231.48 L616.73,231.48 L616.85,231.49 L617.44,231.50 L618.15,231.51 L618.86,231.52 L619.57,231.52 L620.28,231.50 L620.99,231.48 L621.70,231.47 L622.41,231.51 L623.12,231.53 L623.83,231.51 L624.54,231.48 L625.25,231.43 L625.96,231.46 L626.67,231.49 L627.38,231.51 L628.09,231.48 L628.56,231.44 L628.68,231.43 L628.80,231.42 L628.92,231.42 L629.04,231.42 L629.16,231.42 L629.27,231.42 L629.39,231.42 L629.51,231.42 L629.63,231.42 L629.75,231.42 L629.86,231.41 L629.98,231.41 L630.10,231.41 L630.22,231.41 L630.34,231.41 L630.46,231.41 L630.58,231.41 L630.69,231.40 L630.81,231.40 L630.93,231.40 L631.05,231.40 L631.17,231.39 L631.28,231.39 L631.40,231.38 L631.52,231.37 L631.64,231.36 L631.76,231.35 L631.88,231.34 L632.00,231.32 L632.11,231.30 L632.23,231.27 L632.35,231.24 L632.47,231.21 L632.59,231.16 L632.70,231.11 L632.82,231.03 L632.94,230.94 L633.06,230.83 L633.18,230.69 L633.30,230.51 L633.42,230.30 L633.53,230.03 L633.65,229.71 L633.77,229.32 L633.89,228.86 L634.01,228.32 L634.12,227.69 L634.24,226.97 L634.36,226.14 L634.48,225.20 L634.60,224.15 L634.72,222.98 L634.83,221.72 L634.95,220.37 L635.07,218.96 L635.19,217.53 L635.31,216.13 L635.43,214.85 L635.55,213.80 L635.66,213.22 L635.78,213.80 L635.90,214.84 L636.02,216.13 L636.14,217.52 L636.25,218.96 L636.37,220.37 L636.49,221.72 L636.61,222.98 L636.73,224.15 L636.85,225.19 L636.97,226.13 L637.08,226.96 L637.20,227.69 L637.32,228.33 L637.44,228.88 L637.56,229.34 L637.67,229.74 L637.79,230.07 L637.91,230.35 L638.03,230.59 L638.15,230.78 L638.27,230.94 L638.39,231.05 L638.50,231.14 L638.62,231.21 L638.74,231.26 L638.86,231.30 L638.98,231.33 L639.09,231.35 L639.21,231.37 L639.33,231.38 L639.45,231.38 L639.57,231.39 L639.69,231.40 L639.81,231.41 L639.92,231.41 L640.04,231.42 L640.16,231.42 L640.28,231.42 L640.40,231.42 L640.51,231.42 L640.63,231.42 L640.75,231.43 L640.87,231.43 L640.99,231.43 L641.11,231.43 L641.23,231.43 L641.34,231.43 L641.46,231.43 L641.58,231.43 L641.70,231.43 L641.82,231.43 L641.93,231.44 L642.05,231.44 L642.17,231.45 L642.29,231.46 L642.41,231.46 L642.53,231.47 L642.65,231.47 L642.76,231.48 L643.00,231.49 L643.71,231.48 L644.42,231.50 L645.13,231.57 L645.84,231.59 L646.55,231.58 L647.26,231.64 L647.97,231.64 L648.68,231.54 L649.39,231.45 L650.10,231.38 L650.81,231.38 L651.52,231.41 L652.23,231.52 L652.94,231.52 L653.65,231.45 L654.36,231.42 L655.07,231.43 L655.78,231.49 L656.49,231.55 L657.20,231.62 L657.91,231.49 L658.62,231.42 L659.33,231.49 L660.04,231.52 L660.75,231.52 L661.46,231.44 L662.17,231.40 L662.88,231.45 L663.59,231.45 L664.30,231.44 L665.01,231.41 L665.72,231.41 L666.43,231.48 L667.14,231.52 L667.85,231.55 L668.56,231.49 L669.27,231.45 L669.98,231.48 L670.69,231.47 L671.40,231.44 L672.11,231.46 L672.82,231.48 L673.53,231.53 L674.24,231.52 L674.95,231.49 L675.66,231.50 L676.37,231.51 L677.08,231.51 L677.79,231.50 L678.50,231.49" stroke="#2222ff" stroke-width="0.95"/>
</g>
<rect x="394.5" y="6.0" width="284.0" height="229.0" fill="none" stroke="#484848" stroke-width="1.4"/>
<text class="tk" x="391.0" y="234.4" text-anchor="end">0</text>
<text class="tk" x="391.0" y="202.1" text-anchor="end">100</text>
<text class="tk" x="391.0" y="169.9" text-anchor="end">200</text>
<text class="tk" x="391.0" y="137.6" text-anchor="end">300</text>
<text class="tk" x="391.0" y="105.4" text-anchor="end">400</text>
<text class="tk" x="391.0" y="73.1" text-anchor="end">500</text>
<text class="tk" x="391.0" y="40.8" text-anchor="end">600</text>
<text class="tk" x="391.0" y="8.6" text-anchor="end">700</text>
<text class="tk" x="394.5" y="245.2" text-anchor="middle">278</text>
<text class="tk" x="441.8" y="245.2" text-anchor="middle">280</text>
<text class="tk" x="489.2" y="245.2" text-anchor="middle">282</text>
<text class="tk" x="536.5" y="245.2" text-anchor="middle">284</text>
<text class="tk" x="583.8" y="245.2" text-anchor="middle">286</text>
<text class="tk" x="631.2" y="245.2" text-anchor="middle">288</text>
<text class="tk" x="678.5" y="245.2" text-anchor="middle">290</text>
<text class="ax" x="539.2" y="263.2" text-anchor="middle">Wavelength(nm)</text>
<text class="ax" style="font-size:12.8px" transform="translate(364.5 123.2) rotate(-90)" text-anchor="middle">Normalized Intensity</text>
<text class="lb" x="550.8" y="27.2" text-anchor="middle">BRELIBS-Ag</text>
<text class="lb" x="431.3" y="63.3" text-anchor="middle">Mg</text>
<text class="lb" x="448.8" y="87.2" text-anchor="middle">Mg</text>
<text class="lb" x="419.6" y="198.2" text-anchor="middle">Mg</text>
<text class="lb" x="441.2" y="175.2" text-anchor="middle">Mg</text>
<text class="lb" x="566.9" y="193.9" text-anchor="middle">Mg</text>
<text class="lb" x="635.2" y="146.4" text-anchor="middle">Si</text>
<rect x="609.5" y="12.3" width="64.2" height="40.5" rx="1" ry="1" fill="#fff" stroke="#666" stroke-width="1.0"/>
<line x1="617.0" x2="641.8" y1="20.0" y2="20.0" stroke="#222" stroke-width="0.7" stroke-dasharray="1.7 1.3"/>
<line x1="617.0" x2="641.8" y1="33.5" y2="33.5" stroke="#ff2a2a" stroke-width="0.5" stroke-dasharray="3.3 1.0"/>
<line x1="617.0" x2="641.8" y1="46.5" y2="46.5" stroke="#2a2aff" stroke-width="0.85"/>
<text class="lb" x="645.0" y="23.9">1mm</text>
<text class="lb" x="645.0" y="37.4">3mm</text>
<text class="lb" x="645.0" y="50.4">6mm</text>
</g></svg></body></html>
